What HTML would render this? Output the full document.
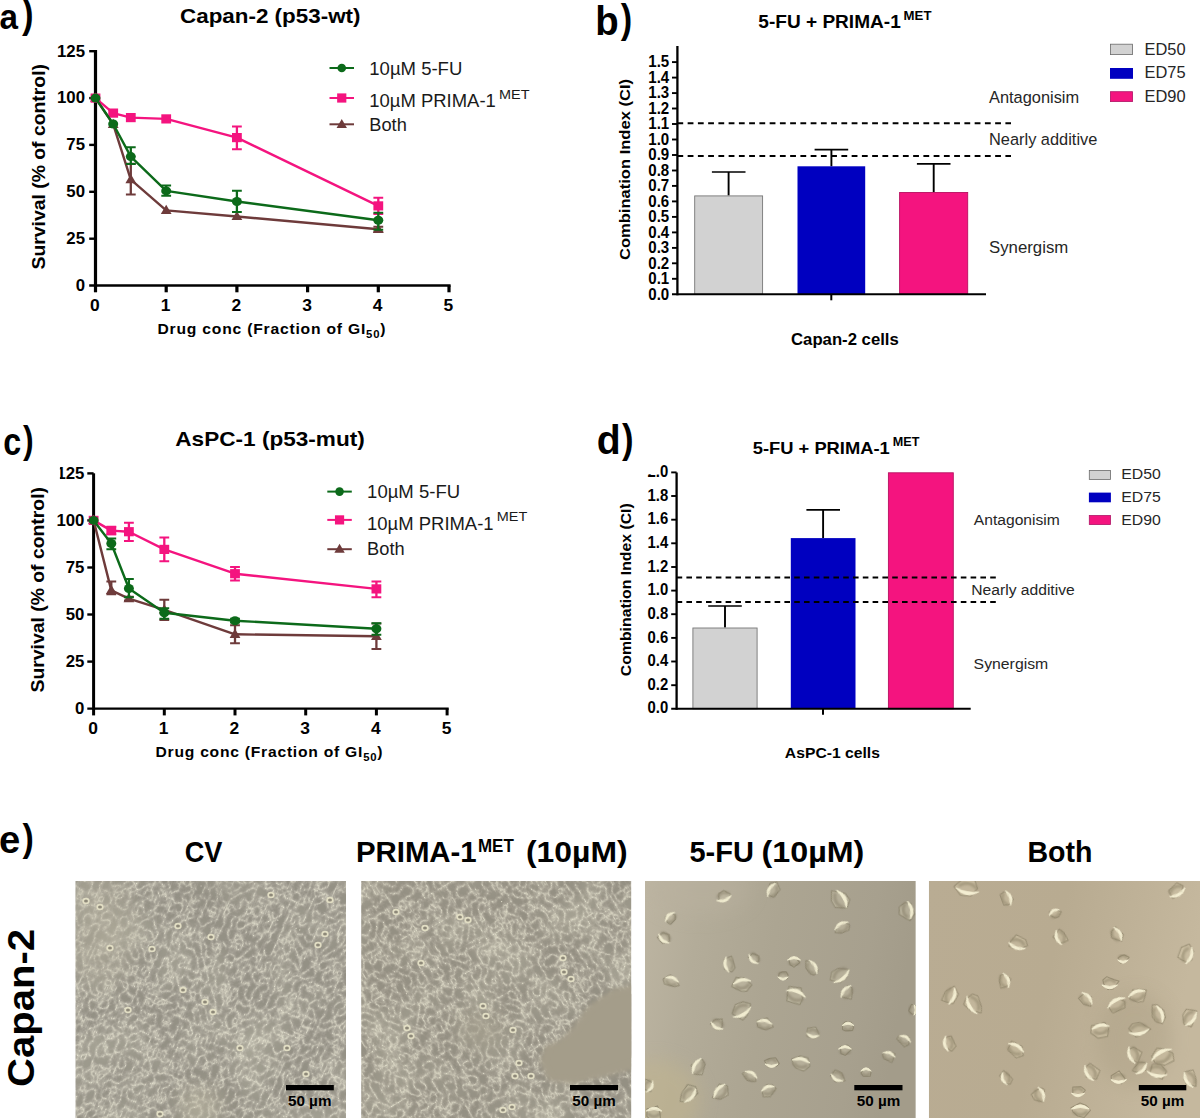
<!DOCTYPE html>
<html><head><meta charset="utf-8"><title>Figure</title>
<style>html,body{margin:0;padding:0;background:#fff;overflow:hidden;width:1200px;height:1118px;}svg{display:block;}text{font-family:"Liberation Sans",sans-serif;}</style>
</head><body>
<svg width="1200" height="1118" viewBox="0 0 1200 1118">
<rect width="1200" height="1118" fill="#fff"/>
<text transform="translate(-0.6,29.25) scale(0.83,0.89)" font-family="Liberation Sans, sans-serif" font-weight="700" font-size="40" fill="#000">a</text>
<text transform="translate(22.0,28.3) scale(0.866,1.0)" font-family="Liberation Sans, sans-serif" font-weight="700" font-size="40" fill="#000">)</text>
<text transform="translate(595.2,34.6) scale(0.96,1.014)" font-family="Liberation Sans, sans-serif" font-weight="700" font-size="40" fill="#000">b</text>
<text transform="translate(620.8,33.3) scale(0.857,0.997)" font-family="Liberation Sans, sans-serif" font-weight="700" font-size="40" fill="#000">)</text>
<text transform="translate(3.3,454.6) scale(0.806,0.966)" font-family="Liberation Sans, sans-serif" font-weight="700" font-size="40" fill="#000">c</text>
<text transform="translate(23.0,453.4) scale(0.8,0.987)" font-family="Liberation Sans, sans-serif" font-weight="700" font-size="40" fill="#000">)</text>
<text transform="translate(596.7,454.2) scale(0.98,1.014)" font-family="Liberation Sans, sans-serif" font-weight="700" font-size="40" fill="#000">d</text>
<text transform="translate(622.0,452.9) scale(0.866,0.997)" font-family="Liberation Sans, sans-serif" font-weight="700" font-size="40" fill="#000">)</text>
<text transform="translate(-1.1,852.5) scale(0.956,0.964)" font-family="Liberation Sans, sans-serif" font-weight="700" font-size="40" fill="#000">e</text>
<text transform="translate(22.5,851.3) scale(0.848,0.987)" font-family="Liberation Sans, sans-serif" font-weight="700" font-size="40" fill="#000">)</text>
<g id="pa">
<text x="180" y="22.5" textLength="180.5" lengthAdjust="spacingAndGlyphs" font-family="Liberation Sans, sans-serif" font-weight="700" font-size="20.8">Capan-2 (p53-wt)</text>
<path d="M95.5,50.099999999999994V286.7" stroke="#000" stroke-width="3.2"/>
<path d="M89.2,285.5H450.6" stroke="#000" stroke-width="2.4"/>
<text transform="translate(85.0,290.7) scale(1.05,1)" text-anchor="end" font-family="Liberation Sans, sans-serif" font-weight="700" font-size="16" fill="#000">0</text>
<path d="M89.2,238.7H95.5" stroke="#000" stroke-width="2.4"/>
<text transform="translate(85.0,243.8) scale(1.05,1)" text-anchor="end" font-family="Liberation Sans, sans-serif" font-weight="700" font-size="16" fill="#000">25</text>
<path d="M89.2,191.8H95.5" stroke="#000" stroke-width="2.4"/>
<text transform="translate(85.0,197.0) scale(1.05,1)" text-anchor="end" font-family="Liberation Sans, sans-serif" font-weight="700" font-size="16" fill="#000">50</text>
<path d="M89.2,144.9H95.5" stroke="#000" stroke-width="2.4"/>
<text transform="translate(85.0,150.1) scale(1.05,1)" text-anchor="end" font-family="Liberation Sans, sans-serif" font-weight="700" font-size="16" fill="#000">75</text>
<path d="M89.2,98.1H95.5" stroke="#000" stroke-width="2.4"/>
<text transform="translate(85.0,103.3) scale(1.05,1)" text-anchor="end" font-family="Liberation Sans, sans-serif" font-weight="700" font-size="16" fill="#000">100</text>
<path d="M89.2,51.2H95.5" stroke="#000" stroke-width="2.4"/>
<text transform="translate(85.0,56.5) scale(1.05,1)" text-anchor="end" font-family="Liberation Sans, sans-serif" font-weight="700" font-size="16" fill="#000">125</text>
<path d="M95.5,285.5V292.3" stroke="#000" stroke-width="3.2"/>
<text transform="translate(94.9,310.8) scale(1.09,1)" text-anchor="middle" font-family="Liberation Sans, sans-serif" font-weight="700" font-size="16" fill="#000">0</text>
<path d="M166.2,285.5V292.3" stroke="#000" stroke-width="3.2"/>
<text transform="translate(165.6,310.8) scale(1.09,1)" text-anchor="middle" font-family="Liberation Sans, sans-serif" font-weight="700" font-size="16" fill="#000">1</text>
<path d="M236.9,285.5V292.3" stroke="#000" stroke-width="3.2"/>
<text transform="translate(236.3,310.8) scale(1.09,1)" text-anchor="middle" font-family="Liberation Sans, sans-serif" font-weight="700" font-size="16" fill="#000">2</text>
<path d="M307.6,285.5V292.3" stroke="#000" stroke-width="3.2"/>
<text transform="translate(307.0,310.8) scale(1.09,1)" text-anchor="middle" font-family="Liberation Sans, sans-serif" font-weight="700" font-size="16" fill="#000">3</text>
<path d="M378.3,285.5V292.3" stroke="#000" stroke-width="3.2"/>
<text transform="translate(377.7,310.8) scale(1.09,1)" text-anchor="middle" font-family="Liberation Sans, sans-serif" font-weight="700" font-size="16" fill="#000">4</text>
<path d="M449.0,285.5V292.3" stroke="#000" stroke-width="3.2"/>
<text transform="translate(448.4,310.8) scale(1.09,1)" text-anchor="middle" font-family="Liberation Sans, sans-serif" font-weight="700" font-size="16" fill="#000">5</text>
<text transform="translate(44.5,269.5) rotate(-90)" textLength="205.5" lengthAdjust="spacingAndGlyphs" font-family="Liberation Sans, sans-serif" font-weight="700" font-size="18">Survival (% of control)</text>
<text transform="translate(157.5,333.8) scale(1.08,1)" textLength="211.1" lengthAdjust="spacing" font-family="Liberation Sans, sans-serif" font-weight="700" font-size="14.5">Drug conc (Fraction of GI<tspan dy="4" font-size="10.5">50</tspan><tspan dy="-4">)</tspan></text>
<path d="M95.5,98.1 L113.2,124.3 L130.8,179.6 L166.2,210.4 L236.9,216.5 L378.3,229.3" fill="none" stroke="#6e3b3b" stroke-width="2.4" stroke-linejoin="round"/>
<path d="M95.5,92.5L100.9,101.7H90.1Z" fill="#6e3b3b"/>
<path d="M113.2,118.7L118.6,127.9H107.8Z" fill="#6e3b3b"/>
<path d="M130.8,163.7V194.6" stroke="#6e3b3b" stroke-width="2.3" fill="none"/>
<path d="M125.9,163.7h9.8M125.9,194.6h9.8" stroke="#6e3b3b" stroke-width="2" fill="none"/>
<path d="M130.8,174.0L136.2,183.2H125.4Z" fill="#6e3b3b"/>
<path d="M166.2,204.8L171.6,214.0H160.8Z" fill="#6e3b3b"/>
<path d="M236.9,210.9L242.3,220.1H231.5Z" fill="#6e3b3b"/>
<path d="M378.3,226.7V231.9" stroke="#6e3b3b" stroke-width="2.3" fill="none"/>
<path d="M373.4,226.7h9.8M373.4,231.9h9.8" stroke="#6e3b3b" stroke-width="2" fill="none"/>
<path d="M378.3,223.7L383.7,232.9H372.9Z" fill="#6e3b3b"/>
<path d="M95.5,98.1 L113.2,113.1 L130.8,117.6 L166.2,118.9 L236.9,137.6 L378.3,205.9" fill="none" stroke="#f4147f" stroke-width="2.4" stroke-linejoin="round"/>
<rect x="90.6" y="93.5" width="9.8" height="9.2" fill="#f4147f"/>
<rect x="108.3" y="108.5" width="9.8" height="9.2" fill="#f4147f"/>
<rect x="125.9" y="113.0" width="9.8" height="9.2" fill="#f4147f"/>
<rect x="161.3" y="114.3" width="9.8" height="9.2" fill="#f4147f"/>
<path d="M236.9,126.4V149.3" stroke="#f4147f" stroke-width="2.3" fill="none"/>
<path d="M232.0,126.4h9.8M232.0,149.3h9.8" stroke="#f4147f" stroke-width="2" fill="none"/>
<rect x="232.0" y="133.0" width="9.8" height="9.2" fill="#f4147f"/>
<path d="M378.3,197.8V213.9" stroke="#f4147f" stroke-width="2.3" fill="none"/>
<path d="M373.4,197.8h9.8M373.4,213.9h9.8" stroke="#f4147f" stroke-width="2" fill="none"/>
<rect x="373.4" y="201.3" width="9.8" height="9.2" fill="#f4147f"/>
<path d="M95.5,98.1 L113.2,124.0 L130.8,156.6 L166.2,190.9 L236.9,201.5 L378.3,220.3" fill="none" stroke="#0c6a1a" stroke-width="2.4" stroke-linejoin="round"/>
<ellipse cx="95.5" cy="98.1" rx="5" ry="4.5" fill="#0c6a1a"/>
<ellipse cx="113.2" cy="124.0" rx="5" ry="4.5" fill="#0c6a1a"/>
<path d="M130.8,147.2V164.1" stroke="#0c6a1a" stroke-width="2.3" fill="none"/>
<path d="M125.9,147.2h9.8M125.9,164.1h9.8" stroke="#0c6a1a" stroke-width="2" fill="none"/>
<ellipse cx="130.8" cy="156.6" rx="5" ry="4.5" fill="#0c6a1a"/>
<path d="M166.2,185.6V195.7" stroke="#0c6a1a" stroke-width="2.3" fill="none"/>
<path d="M161.3,185.6h9.8M161.3,195.7h9.8" stroke="#0c6a1a" stroke-width="2" fill="none"/>
<ellipse cx="166.2" cy="190.9" rx="5" ry="4.5" fill="#0c6a1a"/>
<path d="M236.9,190.7V211.9" stroke="#0c6a1a" stroke-width="2.3" fill="none"/>
<path d="M232.0,190.7h9.8M232.0,211.9h9.8" stroke="#0c6a1a" stroke-width="2" fill="none"/>
<ellipse cx="236.9" cy="201.5" rx="5" ry="4.5" fill="#0c6a1a"/>
<path d="M378.3,212.8V229.7" stroke="#0c6a1a" stroke-width="2.3" fill="none"/>
<path d="M373.4,212.8h9.8M373.4,229.7h9.8" stroke="#0c6a1a" stroke-width="2" fill="none"/>
<ellipse cx="378.3" cy="220.3" rx="5" ry="4.5" fill="#0c6a1a"/>
<path d="M329.5,68H354.0" stroke="#0c6a1a" stroke-width="2"/>
<circle cx="341.75" cy="68" r="4.3" fill="#0c6a1a"/>
<text x="369.3" y="75" textLength="93" lengthAdjust="spacingAndGlyphs" font-family="Liberation Sans, sans-serif" font-size="18" fill="#1a1a1a">10&#181;M 5-FU</text>
<path d="M329.5,98H354.0" stroke="#f4147f" stroke-width="2"/>
<rect x="337.15" y="93.4" width="9.2" height="9.2" fill="#f4147f"/>
<text x="369.3" y="107" textLength="126.5" lengthAdjust="spacingAndGlyphs" font-family="Liberation Sans, sans-serif" font-size="18" fill="#1a1a1a">10&#181;M PRIMA-1</text>
<text x="499.0" y="98.7" textLength="30.5" lengthAdjust="spacingAndGlyphs" font-family="Liberation Sans, sans-serif" font-size="13" fill="#1a1a1a">MET</text>
<path d="M329.5,124.3H354.0" stroke="#6e3b3b" stroke-width="2"/>
<path d="M341.75,118.89999999999999L346.95,127.89999999999999H336.55Z" fill="#6e3b3b"/>
<text x="369.3" y="130.5" textLength="37.5" lengthAdjust="spacingAndGlyphs" font-family="Liberation Sans, sans-serif" font-size="18" fill="#1a1a1a">Both</text>
</g>
<g id="pc">
<text transform="translate(175.3,446) scale(1.086,1)" text-anchor="start" font-family="Liberation Sans, sans-serif" font-weight="700" font-size="20.8" fill="#000">AsPC-1 (p53-mut)</text>
<path d="M93.6,473.3V709.8000000000001" stroke="#000" stroke-width="3.0"/>
<path d="M87.3,708.6H448.70000000000005" stroke="#000" stroke-width="2.4"/>
<text transform="translate(84.39999999999999,713.8) scale(1.05,1)" text-anchor="end" font-family="Liberation Sans, sans-serif" font-weight="700" font-size="16" fill="#000">0</text>
<path d="M87.3,661.6H93.6" stroke="#000" stroke-width="2.4"/>
<text transform="translate(84.39999999999999,666.8) scale(1.05,1)" text-anchor="end" font-family="Liberation Sans, sans-serif" font-weight="700" font-size="16" fill="#000">25</text>
<path d="M87.3,614.5H93.6" stroke="#000" stroke-width="2.4"/>
<text transform="translate(84.39999999999999,619.7) scale(1.05,1)" text-anchor="end" font-family="Liberation Sans, sans-serif" font-weight="700" font-size="16" fill="#000">50</text>
<path d="M87.3,567.5H93.6" stroke="#000" stroke-width="2.4"/>
<text transform="translate(84.39999999999999,572.7) scale(1.05,1)" text-anchor="end" font-family="Liberation Sans, sans-serif" font-weight="700" font-size="16" fill="#000">75</text>
<path d="M87.3,520.4H93.6" stroke="#000" stroke-width="2.4"/>
<text transform="translate(84.39999999999999,525.6) scale(1.05,1)" text-anchor="end" font-family="Liberation Sans, sans-serif" font-weight="700" font-size="16" fill="#000">100</text>
<path d="M87.3,473.4H93.6" stroke="#000" stroke-width="2.4"/>
<text transform="translate(84.39999999999999,478.6) scale(1.05,1)" text-anchor="end" font-family="Liberation Sans, sans-serif" font-weight="700" font-size="16" fill="#000">125</text>
<path d="M93.6,708.6V715.4" stroke="#000" stroke-width="3.0"/>
<text transform="translate(93.0,733.9) scale(1.09,1)" text-anchor="middle" font-family="Liberation Sans, sans-serif" font-weight="700" font-size="16" fill="#000">0</text>
<path d="M164.3,708.6V715.4" stroke="#000" stroke-width="3.0"/>
<text transform="translate(163.7,733.9) scale(1.09,1)" text-anchor="middle" font-family="Liberation Sans, sans-serif" font-weight="700" font-size="16" fill="#000">1</text>
<path d="M235.0,708.6V715.4" stroke="#000" stroke-width="3.0"/>
<text transform="translate(234.4,733.9) scale(1.09,1)" text-anchor="middle" font-family="Liberation Sans, sans-serif" font-weight="700" font-size="16" fill="#000">2</text>
<path d="M305.7,708.6V715.4" stroke="#000" stroke-width="3.0"/>
<text transform="translate(305.1,733.9) scale(1.09,1)" text-anchor="middle" font-family="Liberation Sans, sans-serif" font-weight="700" font-size="16" fill="#000">3</text>
<path d="M376.4,708.6V715.4" stroke="#000" stroke-width="3.0"/>
<text transform="translate(375.8,733.9) scale(1.09,1)" text-anchor="middle" font-family="Liberation Sans, sans-serif" font-weight="700" font-size="16" fill="#000">4</text>
<path d="M447.1,708.6V715.4" stroke="#000" stroke-width="3.0"/>
<text transform="translate(446.5,733.9) scale(1.09,1)" text-anchor="middle" font-family="Liberation Sans, sans-serif" font-weight="700" font-size="16" fill="#000">5</text>
<rect x="50" y="462" width="9.9" height="24" fill="#fff"/>
<text transform="translate(43.6,692.5) rotate(-90)" textLength="205.5" lengthAdjust="spacingAndGlyphs" font-family="Liberation Sans, sans-serif" font-weight="700" font-size="18">Survival (% of control)</text>
<text transform="translate(155.5,756.7) scale(1.08,1)" textLength="210.2" lengthAdjust="spacing" font-family="Liberation Sans, sans-serif" font-weight="700" font-size="14.5">Drug conc (Fraction of GI<tspan dy="4.2" font-size="10.5">50</tspan><tspan dy="-4.2">)</tspan></text>
<path d="M93.6,520.4 L111.3,590.4 L128.9,598.7 L164.3,609.8 L235.0,634.3 L376.4,636.3" fill="none" stroke="#6e3b3b" stroke-width="2.4" stroke-linejoin="round"/>
<path d="M93.6,514.8L99.0,524.0H88.2Z" fill="#6e3b3b"/>
<path d="M111.3,581.4V594.2" stroke="#6e3b3b" stroke-width="2.3" fill="none"/>
<path d="M106.4,581.4h9.8M106.4,594.2h9.8" stroke="#6e3b3b" stroke-width="2" fill="none"/>
<path d="M111.3,584.8L116.7,594.0H105.9Z" fill="#6e3b3b"/>
<path d="M128.9,596.8V600.6" stroke="#6e3b3b" stroke-width="2.3" fill="none"/>
<path d="M124.0,596.8h9.8M124.0,600.6h9.8" stroke="#6e3b3b" stroke-width="2" fill="none"/>
<path d="M128.9,593.1L134.3,602.3H123.5Z" fill="#6e3b3b"/>
<path d="M164.3,599.8V620.1" stroke="#6e3b3b" stroke-width="2.3" fill="none"/>
<path d="M159.4,599.8h9.8M159.4,620.1h9.8" stroke="#6e3b3b" stroke-width="2" fill="none"/>
<path d="M164.3,604.2L169.7,613.4H158.9Z" fill="#6e3b3b"/>
<path d="M235.0,625.2V643.3" stroke="#6e3b3b" stroke-width="2.3" fill="none"/>
<path d="M230.1,625.2h9.8M230.1,643.3h9.8" stroke="#6e3b3b" stroke-width="2" fill="none"/>
<path d="M235.0,628.7L240.4,637.9H229.6Z" fill="#6e3b3b"/>
<path d="M376.4,623.5V649.1" stroke="#6e3b3b" stroke-width="2.3" fill="none"/>
<path d="M371.5,623.5h9.8M371.5,649.1h9.8" stroke="#6e3b3b" stroke-width="2" fill="none"/>
<path d="M376.4,630.7L381.8,639.9H371.0Z" fill="#6e3b3b"/>
<path d="M93.6,520.4 L111.3,530.6 L128.9,531.7 L164.3,549.4 L235.0,573.7 L376.4,588.9" fill="none" stroke="#f4147f" stroke-width="2.4" stroke-linejoin="round"/>
<rect x="88.7" y="515.8" width="9.8" height="9.2" fill="#f4147f"/>
<path d="M111.3,526.8V534.3" stroke="#f4147f" stroke-width="2.3" fill="none"/>
<path d="M106.4,526.8h9.8M106.4,534.3h9.8" stroke="#f4147f" stroke-width="2" fill="none"/>
<rect x="106.4" y="526.0" width="9.8" height="9.2" fill="#f4147f"/>
<path d="M128.9,522.7V541.1" stroke="#f4147f" stroke-width="2.3" fill="none"/>
<path d="M124.0,522.7h9.8M124.0,541.1h9.8" stroke="#f4147f" stroke-width="2" fill="none"/>
<rect x="124.0" y="527.1" width="9.8" height="9.2" fill="#f4147f"/>
<path d="M164.3,537.5V561.2" stroke="#f4147f" stroke-width="2.3" fill="none"/>
<path d="M159.4,537.5h9.8M159.4,561.2h9.8" stroke="#f4147f" stroke-width="2" fill="none"/>
<rect x="159.4" y="544.8" width="9.8" height="9.2" fill="#f4147f"/>
<path d="M235.0,566.9V580.4" stroke="#f4147f" stroke-width="2.3" fill="none"/>
<path d="M230.1,566.9h9.8M230.1,580.4h9.8" stroke="#f4147f" stroke-width="2" fill="none"/>
<rect x="230.1" y="569.1" width="9.8" height="9.2" fill="#f4147f"/>
<path d="M376.4,581.4V597.2" stroke="#f4147f" stroke-width="2.3" fill="none"/>
<path d="M371.5,581.4h9.8M371.5,597.2h9.8" stroke="#f4147f" stroke-width="2" fill="none"/>
<rect x="371.5" y="584.3" width="9.8" height="9.2" fill="#f4147f"/>
<path d="M93.6,520.4 L111.3,543.5 L128.9,588.5 L164.3,612.8 L235.0,620.7 L376.4,628.8" fill="none" stroke="#0c6a1a" stroke-width="2.4" stroke-linejoin="round"/>
<ellipse cx="93.6" cy="520.4" rx="5" ry="4.5" fill="#0c6a1a"/>
<path d="M111.3,538.5V549.2" stroke="#0c6a1a" stroke-width="2.3" fill="none"/>
<path d="M106.4,538.5h9.8M106.4,549.2h9.8" stroke="#0c6a1a" stroke-width="2" fill="none"/>
<ellipse cx="111.3" cy="543.5" rx="5" ry="4.5" fill="#0c6a1a"/>
<path d="M128.9,579.1V597.2" stroke="#0c6a1a" stroke-width="2.3" fill="none"/>
<path d="M124.0,579.1h9.8M124.0,597.2h9.8" stroke="#0c6a1a" stroke-width="2" fill="none"/>
<ellipse cx="128.9" cy="588.5" rx="5" ry="4.5" fill="#0c6a1a"/>
<path d="M164.3,608.3V618.8" stroke="#0c6a1a" stroke-width="2.3" fill="none"/>
<path d="M159.4,608.3h9.8M159.4,618.8h9.8" stroke="#0c6a1a" stroke-width="2" fill="none"/>
<ellipse cx="164.3" cy="612.8" rx="5" ry="4.5" fill="#0c6a1a"/>
<path d="M235.0,618.8V622.6" stroke="#0c6a1a" stroke-width="2.3" fill="none"/>
<path d="M230.1,618.8h9.8M230.1,622.6h9.8" stroke="#0c6a1a" stroke-width="2" fill="none"/>
<ellipse cx="235.0" cy="620.7" rx="5" ry="4.5" fill="#0c6a1a"/>
<path d="M376.4,623.2V634.8" stroke="#0c6a1a" stroke-width="2.3" fill="none"/>
<path d="M371.5,623.2h9.8M371.5,634.8h9.8" stroke="#0c6a1a" stroke-width="2" fill="none"/>
<ellipse cx="376.4" cy="628.8" rx="5" ry="4.5" fill="#0c6a1a"/>
<path d="M327.3,491.6H351.8" stroke="#0c6a1a" stroke-width="2"/>
<circle cx="339.55" cy="491.6" r="4.3" fill="#0c6a1a"/>
<text x="367.1" y="498.4" textLength="93" lengthAdjust="spacingAndGlyphs" font-family="Liberation Sans, sans-serif" font-size="18" fill="#1a1a1a">10&#181;M 5-FU</text>
<path d="M327.3,519.9H351.8" stroke="#f4147f" stroke-width="2"/>
<rect x="334.95" y="515.3" width="9.2" height="9.2" fill="#f4147f"/>
<text x="367.1" y="529.6" textLength="126.5" lengthAdjust="spacingAndGlyphs" font-family="Liberation Sans, sans-serif" font-size="18" fill="#1a1a1a">10&#181;M PRIMA-1</text>
<text x="496.8" y="521.3000000000001" textLength="30.5" lengthAdjust="spacingAndGlyphs" font-family="Liberation Sans, sans-serif" font-size="13" fill="#1a1a1a">MET</text>
<path d="M327.3,549.2H351.8" stroke="#6e3b3b" stroke-width="2"/>
<path d="M339.55,543.8000000000001L344.75,552.8000000000001H334.35Z" fill="#6e3b3b"/>
<text x="367.1" y="554.7" textLength="37.5" lengthAdjust="spacingAndGlyphs" font-family="Liberation Sans, sans-serif" font-size="18" fill="#1a1a1a">Both</text>
</g>
<g id="pb">
<text transform="translate(758.3,27.5) scale(1.06,1)" text-anchor="start" font-family="Liberation Sans, sans-serif" font-weight="700" font-size="18" fill="#000">5-FU + PRIMA-1</text>
<text transform="translate(903.6,19.6) scale(1.1,1)" text-anchor="start" font-family="Liberation Sans, sans-serif" font-weight="700" font-size="12" fill="#000">MET</text>
<path d="M728.6,195.5V172.0" stroke="#000" stroke-width="1.9" fill="none"/>
<path d="M711.9,172.0h33.6" stroke="#000" stroke-width="1.7" fill="none"/>
<rect x="694.6999999999999" y="195.9" width="67.9" height="98.4" fill="#d2d2d2" stroke="#777" stroke-width="0.9"/>
<path d="M831.4,166.3V149.6" stroke="#000" stroke-width="1.9" fill="none"/>
<path d="M814.6,149.6h33.6" stroke="#000" stroke-width="1.7" fill="none"/>
<rect x="797.5" y="166.3" width="67.7" height="128.0" fill="#0000c0"/>
<path d="M933.7,192.1V163.8" stroke="#000" stroke-width="1.9" fill="none"/>
<path d="M916.9,163.8h33.6" stroke="#000" stroke-width="1.7" fill="none"/>
<rect x="899.6" y="192.5" width="68.1" height="101.8" fill="#f4147f" stroke="#b81060" stroke-width="0.9"/>
<path d="M677.4,46V295.3" stroke="#000" stroke-width="2.3"/>
<path d="M672.0,294.3H986" stroke="#000" stroke-width="2"/>
<path d="M831.3,294.3v6" stroke="#000" stroke-width="2"/>
<text transform="translate(669.1999999999999,299.6) scale(0.93,1)" text-anchor="end" font-family="Liberation Sans, sans-serif" font-weight="700" font-size="16.2" fill="#000">0.0</text>
<path d="M672.0,278.8H677.4" stroke="#000" stroke-width="1.9"/>
<text transform="translate(669.1999999999999,284.1) scale(0.93,1)" text-anchor="end" font-family="Liberation Sans, sans-serif" font-weight="700" font-size="16.2" fill="#000">0.1</text>
<path d="M672.0,263.3H677.4" stroke="#000" stroke-width="1.9"/>
<text transform="translate(669.1999999999999,268.6) scale(0.93,1)" text-anchor="end" font-family="Liberation Sans, sans-serif" font-weight="700" font-size="16.2" fill="#000">0.2</text>
<path d="M672.0,247.9H677.4" stroke="#000" stroke-width="1.9"/>
<text transform="translate(669.1999999999999,253.2) scale(0.93,1)" text-anchor="end" font-family="Liberation Sans, sans-serif" font-weight="700" font-size="16.2" fill="#000">0.3</text>
<path d="M672.0,232.4H677.4" stroke="#000" stroke-width="1.9"/>
<text transform="translate(669.1999999999999,237.7) scale(0.93,1)" text-anchor="end" font-family="Liberation Sans, sans-serif" font-weight="700" font-size="16.2" fill="#000">0.4</text>
<path d="M672.0,216.9H677.4" stroke="#000" stroke-width="1.9"/>
<text transform="translate(669.1999999999999,222.2) scale(0.93,1)" text-anchor="end" font-family="Liberation Sans, sans-serif" font-weight="700" font-size="16.2" fill="#000">0.5</text>
<path d="M672.0,201.4H677.4" stroke="#000" stroke-width="1.9"/>
<text transform="translate(669.1999999999999,206.7) scale(0.93,1)" text-anchor="end" font-family="Liberation Sans, sans-serif" font-weight="700" font-size="16.2" fill="#000">0.6</text>
<path d="M672.0,185.9H677.4" stroke="#000" stroke-width="1.9"/>
<text transform="translate(669.1999999999999,191.2) scale(0.93,1)" text-anchor="end" font-family="Liberation Sans, sans-serif" font-weight="700" font-size="16.2" fill="#000">0.7</text>
<path d="M672.0,170.5H677.4" stroke="#000" stroke-width="1.9"/>
<text transform="translate(669.1999999999999,175.8) scale(0.93,1)" text-anchor="end" font-family="Liberation Sans, sans-serif" font-weight="700" font-size="16.2" fill="#000">0.8</text>
<path d="M672.0,155.0H677.4" stroke="#000" stroke-width="1.9"/>
<text transform="translate(669.1999999999999,160.3) scale(0.93,1)" text-anchor="end" font-family="Liberation Sans, sans-serif" font-weight="700" font-size="16.2" fill="#000">0.9</text>
<path d="M672.0,139.5H677.4" stroke="#000" stroke-width="1.9"/>
<text transform="translate(669.1999999999999,144.8) scale(0.93,1)" text-anchor="end" font-family="Liberation Sans, sans-serif" font-weight="700" font-size="16.2" fill="#000">1.0</text>
<path d="M672.0,124.0H677.4" stroke="#000" stroke-width="1.9"/>
<text transform="translate(669.1999999999999,129.3) scale(0.93,1)" text-anchor="end" font-family="Liberation Sans, sans-serif" font-weight="700" font-size="16.2" fill="#000">1.1</text>
<path d="M672.0,108.5H677.4" stroke="#000" stroke-width="1.9"/>
<text transform="translate(669.1999999999999,113.8) scale(0.93,1)" text-anchor="end" font-family="Liberation Sans, sans-serif" font-weight="700" font-size="16.2" fill="#000">1.2</text>
<path d="M672.0,93.1H677.4" stroke="#000" stroke-width="1.9"/>
<text transform="translate(669.1999999999999,98.4) scale(0.93,1)" text-anchor="end" font-family="Liberation Sans, sans-serif" font-weight="700" font-size="16.2" fill="#000">1.3</text>
<path d="M672.0,77.6H677.4" stroke="#000" stroke-width="1.9"/>
<text transform="translate(669.1999999999999,82.9) scale(0.93,1)" text-anchor="end" font-family="Liberation Sans, sans-serif" font-weight="700" font-size="16.2" fill="#000">1.4</text>
<path d="M672.0,62.1H677.4" stroke="#000" stroke-width="1.9"/>
<text transform="translate(669.1999999999999,67.4) scale(0.93,1)" text-anchor="end" font-family="Liberation Sans, sans-serif" font-weight="700" font-size="16.2" fill="#000">1.5</text>
<path d="M677.4,123.2H1011" stroke="#000" stroke-width="2" stroke-dasharray="5.8,4.45"/>
<path d="M677.4,156.1H1011" stroke="#000" stroke-width="2" stroke-dasharray="5.8,4.45"/>
<text transform="translate(630,169.5) rotate(-90) scale(1.09,1)" text-anchor="middle" font-family="Liberation Sans, sans-serif" font-weight="700" font-size="15.2" fill="#000">Combination Index (CI)</text>
<text transform="translate(844.9,345) scale(1.045,1)" text-anchor="middle" font-family="Liberation Sans, sans-serif" font-weight="700" font-size="16" fill="#000">Capan-2 cells</text>
<text transform="translate(989,102.5) scale(0.976,1)" text-anchor="start" font-family="Liberation Sans, sans-serif" font-size="16.8" fill="#262626">Antagonisim</text>
<text transform="translate(989,145) scale(0.976,1)" text-anchor="start" font-family="Liberation Sans, sans-serif" font-size="16.8" fill="#262626">Nearly additive</text>
<text transform="translate(989,253) scale(1.0,1)" text-anchor="start" font-family="Liberation Sans, sans-serif" font-size="16.8" fill="#262626">Synergism</text>
<rect x="1110.4" y="44.199999999999996" width="22.2" height="10.4" fill="#d2d2d2" stroke="#6a6a6a" stroke-width="0.8"/>
<text transform="translate(1144.5,54.6) scale(0.955,1)" text-anchor="start" font-family="Liberation Sans, sans-serif" font-size="17.2" fill="#262626">ED50</text>
<rect x="1110" y="68" width="23" height="10.8" fill="#0000c0"/>
<text transform="translate(1144.5,78.4) scale(0.955,1)" text-anchor="start" font-family="Liberation Sans, sans-serif" font-size="17.2" fill="#262626">ED75</text>
<rect x="1110.4" y="91.7" width="22.2" height="9.9" fill="#f4147f" stroke="#b01566" stroke-width="0.8"/>
<text transform="translate(1144.5,102) scale(0.955,1)" text-anchor="start" font-family="Liberation Sans, sans-serif" font-size="17.2" fill="#262626">ED90</text>
</g>
<g id="pd">
<text transform="translate(752.8,454.2) scale(1.06,1)" text-anchor="start" font-family="Liberation Sans, sans-serif" font-weight="700" font-size="17.3" fill="#000">5-FU + PRIMA-1</text>
<text transform="translate(892.8,446.3) scale(1.05,1)" text-anchor="start" font-family="Liberation Sans, sans-serif" font-weight="700" font-size="12" fill="#000">MET</text>
<path d="M725.0,627.6V606.0" stroke="#000" stroke-width="1.9" fill="none"/>
<path d="M708.2,606.0h33.6" stroke="#000" stroke-width="1.7" fill="none"/>
<rect x="692.9" y="628.0" width="64.2" height="80.8" fill="#d2d2d2" stroke="#777" stroke-width="0.9"/>
<path d="M823.1,538.1V509.9" stroke="#000" stroke-width="1.9" fill="none"/>
<path d="M806.4,509.9h33.6" stroke="#000" stroke-width="1.7" fill="none"/>
<rect x="790.8" y="538.1" width="64.7" height="170.7" fill="#0000c0"/>
<rect x="888.4" y="472.8" width="64.9" height="236.0" fill="#f4147f" stroke="#b81060" stroke-width="0.9"/>
<path d="M676.6,472.5V709.8" stroke="#000" stroke-width="2.3"/>
<path d="M671.2,708.8H970.7" stroke="#000" stroke-width="2"/>
<path d="M823,708.8v6" stroke="#000" stroke-width="2"/>
<text transform="translate(668.2,713.4) scale(0.93,1)" text-anchor="end" font-family="Liberation Sans, sans-serif" font-weight="700" font-size="16" fill="#000">0.0</text>
<path d="M671.2,685.2H676.6" stroke="#000" stroke-width="1.9"/>
<text transform="translate(668.2,689.8) scale(0.93,1)" text-anchor="end" font-family="Liberation Sans, sans-serif" font-weight="700" font-size="16" fill="#000">0.2</text>
<path d="M671.2,661.5H676.6" stroke="#000" stroke-width="1.9"/>
<text transform="translate(668.2,666.1) scale(0.93,1)" text-anchor="end" font-family="Liberation Sans, sans-serif" font-weight="700" font-size="16" fill="#000">0.4</text>
<path d="M671.2,637.9H676.6" stroke="#000" stroke-width="1.9"/>
<text transform="translate(668.2,642.5) scale(0.93,1)" text-anchor="end" font-family="Liberation Sans, sans-serif" font-weight="700" font-size="16" fill="#000">0.6</text>
<path d="M671.2,614.2H676.6" stroke="#000" stroke-width="1.9"/>
<text transform="translate(668.2,618.8) scale(0.93,1)" text-anchor="end" font-family="Liberation Sans, sans-serif" font-weight="700" font-size="16" fill="#000">0.8</text>
<path d="M671.2,590.6H676.6" stroke="#000" stroke-width="1.9"/>
<text transform="translate(668.2,595.2) scale(0.93,1)" text-anchor="end" font-family="Liberation Sans, sans-serif" font-weight="700" font-size="16" fill="#000">1.0</text>
<path d="M671.2,567.0H676.6" stroke="#000" stroke-width="1.9"/>
<text transform="translate(668.2,571.6) scale(0.93,1)" text-anchor="end" font-family="Liberation Sans, sans-serif" font-weight="700" font-size="16" fill="#000">1.2</text>
<path d="M671.2,543.3H676.6" stroke="#000" stroke-width="1.9"/>
<text transform="translate(668.2,547.9) scale(0.93,1)" text-anchor="end" font-family="Liberation Sans, sans-serif" font-weight="700" font-size="16" fill="#000">1.4</text>
<path d="M671.2,519.7H676.6" stroke="#000" stroke-width="1.9"/>
<text transform="translate(668.2,524.3) scale(0.93,1)" text-anchor="end" font-family="Liberation Sans, sans-serif" font-weight="700" font-size="16" fill="#000">1.6</text>
<path d="M671.2,496.0H676.6" stroke="#000" stroke-width="1.9"/>
<text transform="translate(668.2,500.6) scale(0.93,1)" text-anchor="end" font-family="Liberation Sans, sans-serif" font-weight="700" font-size="16" fill="#000">1.8</text>
<path d="M671.2,472.4H676.6" stroke="#000" stroke-width="1.9"/>
<text transform="translate(668.2,477.0) scale(0.93,1)" text-anchor="end" font-family="Liberation Sans, sans-serif" font-weight="700" font-size="16" fill="#000">2.0</text>
<path d="M676.6,577.6H996.5" stroke="#000" stroke-width="2" stroke-dasharray="5.6,4.2"/>
<path d="M676.6,602.1H996.5" stroke="#000" stroke-width="2" stroke-dasharray="5.6,4.2"/>
<rect x="644" y="458" width="13.2" height="16.3" fill="#fff"/>
<text transform="translate(631.2,589.7) rotate(-90) scale(1.09,1)" text-anchor="middle" font-family="Liberation Sans, sans-serif" font-weight="700" font-size="14.5" fill="#000">Combination Index (CI)</text>
<text transform="translate(832.4,758.1) scale(1.02,1)" text-anchor="middle" font-family="Liberation Sans, sans-serif" font-weight="700" font-size="15.4" fill="#000">AsPC-1 cells</text>
<text transform="translate(973.8,525) scale(1.03,1)" text-anchor="start" font-family="Liberation Sans, sans-serif" font-size="15.2" fill="#262626">Antagonisim</text>
<text transform="translate(971.3,594.8) scale(1.03,1)" text-anchor="start" font-family="Liberation Sans, sans-serif" font-size="15.2" fill="#262626">Nearly additive</text>
<text transform="translate(973.6,668.8) scale(1.04,1)" text-anchor="start" font-family="Liberation Sans, sans-serif" font-size="15.2" fill="#262626">Synergism</text>
<rect x="1089.3000000000002" y="470.4" width="21.2" height="9.0" fill="#d2d2d2" stroke="#6a6a6a" stroke-width="0.8"/>
<text transform="translate(1121.2,479.4) scale(1.07,1)" text-anchor="start" font-family="Liberation Sans, sans-serif" font-size="14.8" fill="#262626">ED50</text>
<rect x="1088.9" y="492.6" width="22" height="9.7" fill="#0000c0"/>
<text transform="translate(1121.2,501.9) scale(1.07,1)" text-anchor="start" font-family="Liberation Sans, sans-serif" font-size="14.8" fill="#262626">ED75</text>
<rect x="1089.3000000000002" y="515.5" width="21.2" height="9.1" fill="#f4147f" stroke="#b01566" stroke-width="0.8"/>
<text transform="translate(1121.2,525) scale(1.07,1)" text-anchor="start" font-family="Liberation Sans, sans-serif" font-size="14.8" fill="#262626">ED90</text>
</g>
<g id="pe">
<text transform="translate(184.7,862) scale(0.905,1)" text-anchor="start" font-family="Liberation Sans, sans-serif" font-weight="700" font-size="30" fill="#000">CV</text>
<text transform="translate(355.9,862) scale(0.98,1)" text-anchor="start" font-family="Liberation Sans, sans-serif" font-weight="700" font-size="30" fill="#000">PRIMA-1</text>
<text transform="translate(478,851.8) scale(0.97,1)" text-anchor="start" font-family="Liberation Sans, sans-serif" font-weight="700" font-size="17.5" fill="#000">MET</text>
<text transform="translate(526.0,862) scale(1.063,1)" text-anchor="start" font-family="Liberation Sans, sans-serif" font-weight="700" font-size="30" fill="#000">(10&#181;M)</text>
<text transform="translate(689.4,862) scale(0.967,1)" text-anchor="start" font-family="Liberation Sans, sans-serif" font-weight="700" font-size="30" fill="#000">5-FU</text>
<text transform="translate(761.6,862) scale(1.075,1)" text-anchor="start" font-family="Liberation Sans, sans-serif" font-weight="700" font-size="30" fill="#000">(10&#181;M)</text>
<text transform="translate(1027.4,862) scale(0.953,1)" text-anchor="start" font-family="Liberation Sans, sans-serif" font-weight="700" font-size="30" fill="#000">Both</text>
<text transform="translate(34,1087) rotate(-90)" textLength="158" lengthAdjust="spacingAndGlyphs" font-family="Liberation Sans, sans-serif" font-weight="700" font-size="36">Capan-2</text>
<defs>
<filter id="tex1" x="0" y="0" width="100%" height="100%" color-interpolation-filters="sRGB"><feTurbulence type="turbulence" baseFrequency="0.125 0.105" numOctaves="3" seed="9"/><feColorMatrix type="matrix" values="1 0 0 0 0  1 0 0 0 0  1 0 0 0 0  0 0 0 0 1"/><feComponentTransfer><feFuncR type="table" tableValues="0.894 0.778 0.687 0.635 0.610 0.584 0.584 0.584 0.584 0.584 0.584"/><feFuncG type="table" tableValues="0.882 0.764 0.672 0.620 0.594 0.569 0.569 0.569 0.569 0.569 0.569"/><feFuncB type="table" tableValues="0.812 0.706 0.624 0.576 0.551 0.525 0.525 0.525 0.525 0.525 0.525"/></feComponentTransfer><feGaussianBlur stdDeviation="0.65" result="tex"/><feTurbulence type="fractalNoise" baseFrequency="0.02" numOctaves="2" seed="10" result="lf"/><feColorMatrix in="lf" type="matrix" values="0 0 0 0 1  0 0 0 0 1  0 0 0 0 0.9  0.4 0 0 0 -0.168" result="lfa"/><feComposite in="lfa" in2="tex" operator="over"/></filter>
<filter id="tex2" x="0" y="0" width="100%" height="100%" color-interpolation-filters="sRGB"><feTurbulence type="turbulence" baseFrequency="0.125 0.105" numOctaves="3" seed="14"/><feColorMatrix type="matrix" values="1 0 0 0 0  1 0 0 0 0  1 0 0 0 0  0 0 0 0 1"/><feComponentTransfer><feFuncR type="table" tableValues="0.890 0.775 0.686 0.635 0.610 0.584 0.584 0.584 0.584 0.584 0.584"/><feFuncG type="table" tableValues="0.875 0.758 0.667 0.616 0.590 0.565 0.565 0.565 0.565 0.565 0.565"/><feFuncB type="table" tableValues="0.800 0.694 0.612 0.565 0.539 0.514 0.514 0.514 0.514 0.514 0.514"/></feComponentTransfer><feGaussianBlur stdDeviation="0.65" result="tex"/><feTurbulence type="fractalNoise" baseFrequency="0.02" numOctaves="2" seed="15" result="lf"/><feColorMatrix in="lf" type="matrix" values="0 0 0 0 1  0 0 0 0 1  0 0 0 0 0.9  0.4 0 0 0 -0.168" result="lfa"/><feComposite in="lfa" in2="tex" operator="over"/></filter>
<filter id="bl05" x="-30%" y="-30%" width="160%" height="160%"><feGaussianBlur stdDeviation="0.5"/></filter>
<filter id="bl07" x="-50%" y="-50%" width="200%" height="200%"><feGaussianBlur stdDeviation="0.7"/></filter>
<filter id="bl1" x="-30%" y="-30%" width="160%" height="160%"><feGaussianBlur stdDeviation="0.9"/></filter>
<filter id="bl2" x="-40%" y="-40%" width="180%" height="180%"><feGaussianBlur stdDeviation="2"/></filter>
<filter id="bl3" x="-30%" y="-30%" width="160%" height="160%"><feGaussianBlur stdDeviation="3.5"/></filter>
<filter id="bl8" x="-50%" y="-50%" width="200%" height="200%"><feGaussianBlur stdDeviation="9"/></filter>
<clipPath id="c1"><rect x="75.5" y="881" width="270.5" height="237"/></clipPath>
<clipPath id="c2"><rect x="361.2" y="881" width="270" height="237"/></clipPath>
<clipPath id="c3"><rect x="645" y="881" width="270.8" height="237"/></clipPath>
<clipPath id="c4"><rect x="928.8" y="881" width="271.2" height="237"/></clipPath>
<linearGradient id="g3" x1="0" y1="0" x2="1" y2="0.15"><stop offset="0" stop-color="#bdb5a2"/><stop offset="0.22" stop-color="#b3ac99"/><stop offset="0.5" stop-color="#aca592"/><stop offset="0.85" stop-color="#a7a08e"/><stop offset="1" stop-color="#a39c8a"/></linearGradient>
<linearGradient id="g4" x1="0" y1="0" x2="1" y2="0.2"><stop offset="0" stop-color="#b9ac93"/><stop offset="0.5" stop-color="#b8ab91"/><stop offset="0.78" stop-color="#bfb298"/><stop offset="1" stop-color="#c5b89e"/></linearGradient>
</defs>
<g clip-path="url(#c1)">
<rect x="-40" y="760" width="520" height="480" filter="url(#tex1)" transform="rotate(24 210 1000)"/>
<ellipse cx="100" cy="930" rx="40" ry="60" fill="#bcb7a4" opacity="0.35" filter="url(#bl8)"/>
<ellipse cx="215" cy="890" rx="30" ry="14" fill="#8f8b80" opacity="0.35" filter="url(#bl8)"/>
<ellipse cx="200" cy="1105" rx="22" ry="18" fill="#c4bfa8" opacity="0.45" filter="url(#bl8)"/>
<ellipse cx="86.0" cy="901.0" rx="2.8" ry="2.4" fill="#8d8878" stroke="#e2dec4" stroke-width="1.7" filter="url(#bl07)"/>
<ellipse cx="100.0" cy="907.0" rx="2.8" ry="2.4" fill="#8d8878" stroke="#e2dec4" stroke-width="1.7" filter="url(#bl07)"/>
<ellipse cx="271.0" cy="895.0" rx="2.8" ry="2.4" fill="#8d8878" stroke="#e2dec4" stroke-width="1.7" filter="url(#bl07)"/>
<ellipse cx="211.0" cy="937.0" rx="2.8" ry="2.4" fill="#8d8878" stroke="#e2dec4" stroke-width="1.7" filter="url(#bl07)"/>
<ellipse cx="325.0" cy="934.0" rx="2.8" ry="2.4" fill="#8d8878" stroke="#e2dec4" stroke-width="1.7" filter="url(#bl07)"/>
<ellipse cx="318.0" cy="945.0" rx="2.8" ry="2.4" fill="#8d8878" stroke="#e2dec4" stroke-width="1.7" filter="url(#bl07)"/>
<ellipse cx="183.0" cy="990.0" rx="2.8" ry="2.4" fill="#8d8878" stroke="#e2dec4" stroke-width="1.7" filter="url(#bl07)"/>
<ellipse cx="205.0" cy="1002.0" rx="2.8" ry="2.4" fill="#8d8878" stroke="#e2dec4" stroke-width="1.7" filter="url(#bl07)"/>
<ellipse cx="213.0" cy="1012.0" rx="2.8" ry="2.4" fill="#8d8878" stroke="#e2dec4" stroke-width="1.7" filter="url(#bl07)"/>
<ellipse cx="240.0" cy="1048.0" rx="2.8" ry="2.4" fill="#8d8878" stroke="#e2dec4" stroke-width="1.7" filter="url(#bl07)"/>
<ellipse cx="287.0" cy="1048.0" rx="2.8" ry="2.4" fill="#8d8878" stroke="#e2dec4" stroke-width="1.7" filter="url(#bl07)"/>
<ellipse cx="306.0" cy="1074.0" rx="2.8" ry="2.4" fill="#8d8878" stroke="#e2dec4" stroke-width="1.7" filter="url(#bl07)"/>
<ellipse cx="160.0" cy="1114.0" rx="2.8" ry="2.4" fill="#8d8878" stroke="#e2dec4" stroke-width="1.7" filter="url(#bl07)"/>
<ellipse cx="110.0" cy="948.0" rx="2.8" ry="2.4" fill="#8d8878" stroke="#e2dec4" stroke-width="1.7" filter="url(#bl07)"/>
<ellipse cx="152.0" cy="949.0" rx="2.8" ry="2.4" fill="#8d8878" stroke="#e2dec4" stroke-width="1.7" filter="url(#bl07)"/>
<ellipse cx="178.0" cy="926.0" rx="2.8" ry="2.4" fill="#8d8878" stroke="#e2dec4" stroke-width="1.7" filter="url(#bl07)"/>
<ellipse cx="330.0" cy="900.0" rx="2.8" ry="2.4" fill="#8d8878" stroke="#e2dec4" stroke-width="1.7" filter="url(#bl07)"/>
<ellipse cx="128.0" cy="1010.0" rx="2.8" ry="2.4" fill="#8d8878" stroke="#e2dec4" stroke-width="1.7" filter="url(#bl07)"/>
</g>
<rect x="286" y="1085" width="47.8" height="5.3" fill="#000"/>
<text x="309.7" y="1106" text-anchor="middle" textLength="43.5" lengthAdjust="spacingAndGlyphs" font-family="Liberation Sans, sans-serif" font-weight="700" font-size="13.8">50 &#181;m</text>
<g clip-path="url(#c2)">
<rect x="240" y="760" width="520" height="480" filter="url(#tex2)" transform="rotate(-31 496 1000)"/>
<path d="M640,983 L612,990 L588,1006 L574,1026 L560,1040 L545,1046 L540,1062 L548,1080 L572,1084 L598,1078 L640,1068Z" fill="#a49d8a" filter="url(#bl2)"/>
<path d="M640,992 L615,998 L594,1013 L580,1033 L555,1048 L549,1062 L556,1074 L580,1076 L600,1068 L640,1055Z" fill="#a49d8a"/>
<ellipse cx="480" cy="1030" rx="22" ry="18" fill="#a29c8b" opacity="0.6" filter="url(#bl8)"/>
<ellipse cx="396.0" cy="912.0" rx="2.8" ry="2.4" fill="#8d8878" stroke="#e2dec4" stroke-width="1.7" filter="url(#bl07)"/>
<ellipse cx="425.0" cy="928.0" rx="2.8" ry="2.4" fill="#8d8878" stroke="#e2dec4" stroke-width="1.7" filter="url(#bl07)"/>
<ellipse cx="460.0" cy="917.0" rx="2.8" ry="2.4" fill="#8d8878" stroke="#e2dec4" stroke-width="1.7" filter="url(#bl07)"/>
<ellipse cx="468.0" cy="920.0" rx="2.8" ry="2.4" fill="#8d8878" stroke="#e2dec4" stroke-width="1.7" filter="url(#bl07)"/>
<ellipse cx="421.0" cy="963.0" rx="2.8" ry="2.4" fill="#8d8878" stroke="#e2dec4" stroke-width="1.7" filter="url(#bl07)"/>
<ellipse cx="563.0" cy="958.0" rx="2.8" ry="2.4" fill="#8d8878" stroke="#e2dec4" stroke-width="1.7" filter="url(#bl07)"/>
<ellipse cx="564.0" cy="972.0" rx="2.8" ry="2.4" fill="#8d8878" stroke="#e2dec4" stroke-width="1.7" filter="url(#bl07)"/>
<ellipse cx="571.0" cy="979.0" rx="2.8" ry="2.4" fill="#8d8878" stroke="#e2dec4" stroke-width="1.7" filter="url(#bl07)"/>
<ellipse cx="483.0" cy="1006.0" rx="2.8" ry="2.4" fill="#8d8878" stroke="#e2dec4" stroke-width="1.7" filter="url(#bl07)"/>
<ellipse cx="486.0" cy="1016.0" rx="2.8" ry="2.4" fill="#8d8878" stroke="#e2dec4" stroke-width="1.7" filter="url(#bl07)"/>
<ellipse cx="407.0" cy="1028.0" rx="2.8" ry="2.4" fill="#8d8878" stroke="#e2dec4" stroke-width="1.7" filter="url(#bl07)"/>
<ellipse cx="411.0" cy="1036.0" rx="2.8" ry="2.4" fill="#8d8878" stroke="#e2dec4" stroke-width="1.7" filter="url(#bl07)"/>
<ellipse cx="513.0" cy="1030.0" rx="2.8" ry="2.4" fill="#8d8878" stroke="#e2dec4" stroke-width="1.7" filter="url(#bl07)"/>
<ellipse cx="519.0" cy="1063.0" rx="2.8" ry="2.4" fill="#8d8878" stroke="#e2dec4" stroke-width="1.7" filter="url(#bl07)"/>
<ellipse cx="515.0" cy="1076.0" rx="2.8" ry="2.4" fill="#8d8878" stroke="#e2dec4" stroke-width="1.7" filter="url(#bl07)"/>
<ellipse cx="531.0" cy="1076.0" rx="2.8" ry="2.4" fill="#8d8878" stroke="#e2dec4" stroke-width="1.7" filter="url(#bl07)"/>
<ellipse cx="512.0" cy="1107.0" rx="2.8" ry="2.4" fill="#8d8878" stroke="#e2dec4" stroke-width="1.7" filter="url(#bl07)"/>
<ellipse cx="503.0" cy="1110.0" rx="2.8" ry="2.4" fill="#8d8878" stroke="#e2dec4" stroke-width="1.7" filter="url(#bl07)"/>
</g>
<rect x="570" y="1085" width="48.0" height="5.3" fill="#000"/>
<text x="594" y="1106" text-anchor="middle" textLength="43.5" lengthAdjust="spacingAndGlyphs" font-family="Liberation Sans, sans-serif" font-weight="700" font-size="13.8">50 &#181;m</text>
<g clip-path="url(#c3)">
<rect x="645" y="881" width="270.8" height="237" fill="url(#g3)"/>
<ellipse cx="655" cy="1100" rx="45" ry="40" fill="#c0b48f" opacity="0.6" filter="url(#bl8)"/>
<ellipse cx="700" cy="890" rx="50" ry="25" fill="#b9b19f" opacity="0.5" filter="url(#bl8)"/>
<g transform="translate(724.0,898.0) rotate(-20)">
<path d="M7.6,-1.0 L3.1,2.2 L-5.7,1.3 L-3.6,-5.6 L2.3,-7.2Z" fill="#c4bda4" fill-opacity="0.5" stroke="#857d67" stroke-opacity="0.7" stroke-width="1.1" stroke-linejoin="round" filter="url(#bl05)"/>
<path d="M-6.2,-2.3 Q0,-8.6 6.2,-2.3" fill="none" stroke="#857d67" stroke-width="2.6" opacity="0.62" filter="url(#bl1)"/>
<path d="M-7.8,0 Q0,7.6 7.8,0 Q0,2.8 -7.8,0Z" fill="#f1ecd0" stroke="#f1ecd0" stroke-width="0.9" stroke-linejoin="round" filter="url(#bl05)"/>
</g>
<g transform="translate(771.5,890.0) rotate(-60)">
<path d="M9.4,0.7 L4.7,7.3 L-4.9,5.6 L-6.3,-0.5 L4.9,-4.8Z" fill="#c4bda4" fill-opacity="0.5" stroke="#857d67" stroke-opacity="0.7" stroke-width="1.1" stroke-linejoin="round" filter="url(#bl05)"/>
<path d="M-6.2,2.3 Q0,8.6 6.2,2.3" fill="none" stroke="#857d67" stroke-width="2.6" opacity="0.62" filter="url(#bl1)"/>
<path d="M-7.8,0 Q0,-7.6 7.8,0 Q0,-2.8 -7.8,0Z" fill="#f1ecd0" stroke="#f1ecd0" stroke-width="0.9" stroke-linejoin="round" filter="url(#bl05)"/>
</g>
<g transform="translate(841.5,899.0) rotate(60)">
<path d="M10.5,-0.1 L4.2,9.6 L-3.3,9.7 L-12.1,4.5 L-3.1,-6.0 L4.9,-7.0Z" fill="#c4bda4" fill-opacity="0.5" stroke="#857d67" stroke-opacity="0.7" stroke-width="1.1" stroke-linejoin="round" filter="url(#bl05)"/>
<path d="M-8.2,2.6 Q0,10.0 8.2,2.6" fill="none" stroke="#857d67" stroke-width="2.6" opacity="0.62" filter="url(#bl1)"/>
<path d="M-10.2,0 Q0,-8.8 10.2,0 Q0,-3.2 -10.2,0Z" fill="#f1ecd0" stroke="#f1ecd0" stroke-width="0.9" stroke-linejoin="round" filter="url(#bl05)"/>
</g>
<g transform="translate(841.5,926.0) rotate(-30)">
<path d="M7.6,3.1 L4.4,7.2 L-3.0,6.3 L-8.9,2.6 L-4.3,-1.6 L3.9,-2.8Z" fill="#c4bda4" fill-opacity="0.5" stroke="#857d67" stroke-opacity="0.7" stroke-width="1.1" stroke-linejoin="round" filter="url(#bl05)"/>
<path d="M-6.2,2.3 Q0,8.6 6.2,2.3" fill="none" stroke="#857d67" stroke-width="2.6" opacity="0.62" filter="url(#bl1)"/>
<path d="M-7.8,0 Q0,-7.6 7.8,0 Q0,-2.8 -7.8,0Z" fill="#f1ecd0" stroke="#f1ecd0" stroke-width="0.9" stroke-linejoin="round" filter="url(#bl05)"/>
</g>
<g transform="translate(670.0,917.0) rotate(-45)">
<path d="M5.3,2.2 L2.1,5.4 L-4.8,5.6 L-5.5,1.8 L-3.6,-3.0 L3.1,-2.0Z" fill="#c4bda4" fill-opacity="0.5" stroke="#857d67" stroke-opacity="0.7" stroke-width="1.1" stroke-linejoin="round" filter="url(#bl05)"/>
<path d="M-5.2,2.1 Q0,8.0 5.2,2.1" fill="none" stroke="#857d67" stroke-width="2.6" opacity="0.62" filter="url(#bl1)"/>
<path d="M-6.5,0 Q0,-7.0 6.5,0 Q0,-2.6 -6.5,0Z" fill="#f1ecd0" stroke="#f1ecd0" stroke-width="0.9" stroke-linejoin="round" filter="url(#bl05)"/>
</g>
<g transform="translate(664.0,938.5) rotate(40)">
<path d="M6.3,-1.1 L2.2,4.8 L-5.7,3.5 L-4.8,-3.8 L1.3,-6.1Z" fill="#c4bda4" fill-opacity="0.5" stroke="#857d67" stroke-opacity="0.7" stroke-width="1.1" stroke-linejoin="round" filter="url(#bl05)"/>
<path d="M-5.7,-2.2 Q0,-8.3 5.7,-2.2" fill="none" stroke="#857d67" stroke-width="2.6" opacity="0.62" filter="url(#bl1)"/>
<path d="M-7.1,0 Q0,7.3 7.1,0 Q0,2.7 -7.1,0Z" fill="#f1ecd0" stroke="#f1ecd0" stroke-width="0.9" stroke-linejoin="round" filter="url(#bl05)"/>
</g>
<g transform="translate(672.0,980.0) rotate(20)">
<path d="M8.7,2.7 L4.6,5.2 L-5.8,6.2 L-8.7,2.1 L-3.6,-4.2 L2.3,-2.7Z" fill="#c4bda4" fill-opacity="0.5" stroke="#857d67" stroke-opacity="0.7" stroke-width="1.1" stroke-linejoin="round" filter="url(#bl05)"/>
<path d="M-5.7,2.2 Q0,8.3 5.7,2.2" fill="none" stroke="#857d67" stroke-width="2.6" opacity="0.62" filter="url(#bl1)"/>
<path d="M-7.1,0 Q0,-7.3 7.1,0 Q0,-2.7 -7.1,0Z" fill="#f1ecd0" stroke="#f1ecd0" stroke-width="0.9" stroke-linejoin="round" filter="url(#bl05)"/>
</g>
<g transform="translate(727.5,964.5) rotate(80)">
<path d="M8.0,-2.8 L4.0,3.8 L-5.7,2.2 L-7.6,-5.5 L4.6,-7.0Z" fill="#c4bda4" fill-opacity="0.5" stroke="#857d67" stroke-opacity="0.7" stroke-width="1.1" stroke-linejoin="round" filter="url(#bl05)"/>
<path d="M-6.2,-2.3 Q0,-8.6 6.2,-2.3" fill="none" stroke="#857d67" stroke-width="2.6" opacity="0.62" filter="url(#bl1)"/>
<path d="M-7.8,0 Q0,7.6 7.8,0 Q0,2.8 -7.8,0Z" fill="#f1ecd0" stroke="#f1ecd0" stroke-width="0.9" stroke-linejoin="round" filter="url(#bl05)"/>
</g>
<g transform="translate(753.5,959.0) rotate(45)">
<path d="M5.5,-1.8 L2.8,1.7 L-4.8,2.5 L-4.6,-3.3 L1.7,-6.0Z" fill="#c4bda4" fill-opacity="0.5" stroke="#857d67" stroke-opacity="0.7" stroke-width="1.1" stroke-linejoin="round" filter="url(#bl05)"/>
<path d="M-5.2,-2.1 Q0,-8.0 5.2,-2.1" fill="none" stroke="#857d67" stroke-width="2.6" opacity="0.62" filter="url(#bl1)"/>
<path d="M-6.5,0 Q0,7.0 6.5,0 Q0,2.6 -6.5,0Z" fill="#f1ecd0" stroke="#f1ecd0" stroke-width="0.9" stroke-linejoin="round" filter="url(#bl05)"/>
</g>
<g transform="translate(794.0,960.0) rotate(0)">
<path d="M5.7,2.6 L0.1,7.2 L-3.8,4.8 L-5.4,-1.3 L0.9,-3.4Z" fill="#c4bda4" fill-opacity="0.5" stroke="#857d67" stroke-opacity="0.7" stroke-width="1.1" stroke-linejoin="round" filter="url(#bl05)"/>
<path d="M-5.2,2.1 Q0,8.0 5.2,2.1" fill="none" stroke="#857d67" stroke-width="2.6" opacity="0.62" filter="url(#bl1)"/>
<path d="M-6.5,0 Q0,-7.0 6.5,0 Q0,-2.6 -6.5,0Z" fill="#f1ecd0" stroke="#f1ecd0" stroke-width="0.9" stroke-linejoin="round" filter="url(#bl05)"/>
</g>
<g transform="translate(813.0,967.0) rotate(60)">
<path d="M7.6,3.0 L4.9,5.5 L-2.4,6.7 L-9.1,3.0 L-4.0,-1.8 L5.6,-2.8Z" fill="#c4bda4" fill-opacity="0.5" stroke="#857d67" stroke-opacity="0.7" stroke-width="1.1" stroke-linejoin="round" filter="url(#bl05)"/>
<path d="M-6.2,2.3 Q0,8.6 6.2,2.3" fill="none" stroke="#857d67" stroke-width="2.6" opacity="0.62" filter="url(#bl1)"/>
<path d="M-7.8,0 Q0,-7.6 7.8,0 Q0,-2.8 -7.8,0Z" fill="#f1ecd0" stroke="#f1ecd0" stroke-width="0.9" stroke-linejoin="round" filter="url(#bl05)"/>
</g>
<g transform="translate(742.0,982.5) rotate(-10)">
<path d="M9.3,4.0 L3.0,9.5 L-2.1,8.5 L-10.9,2.3 L-5.1,-5.9 L2.6,-4.2Z" fill="#c4bda4" fill-opacity="0.5" stroke="#857d67" stroke-opacity="0.7" stroke-width="1.1" stroke-linejoin="round" filter="url(#bl05)"/>
<path d="M-7.2,2.5 Q0,9.3 7.2,2.5" fill="none" stroke="#857d67" stroke-width="2.6" opacity="0.62" filter="url(#bl1)"/>
<path d="M-9.0,0 Q0,-8.2 9.0,0 Q0,-3.0 -9.0,0Z" fill="#f1ecd0" stroke="#f1ecd0" stroke-width="0.9" stroke-linejoin="round" filter="url(#bl05)"/>
</g>
<g transform="translate(783.0,977.0) rotate(0)">
<path d="M5.0,-1.9 L4.5,1.7 L-1.9,2.1 L-4.6,0.6 L-3.7,-3.8 L-0.7,-5.0 L3.2,-5.1Z" fill="#c4bda4" fill-opacity="0.5" stroke="#857d67" stroke-opacity="0.7" stroke-width="1.1" stroke-linejoin="round" filter="url(#bl05)"/>
<path d="M-4.2,-1.9 Q0,-7.3 4.2,-1.9" fill="none" stroke="#857d67" stroke-width="2.6" opacity="0.62" filter="url(#bl1)"/>
<path d="M-5.2,0 Q0,6.4 5.2,0 Q0,2.4 -5.2,0Z" fill="#f1ecd0" stroke="#f1ecd0" stroke-width="0.9" stroke-linejoin="round" filter="url(#bl05)"/>
</g>
<g transform="translate(796.0,994.0) rotate(20)">
<path d="M8.0,2.7 L7.2,8.6 L-6.2,9.8 L-8.5,0.3 L-9.1,-4.7 L2.8,-7.4Z" fill="#c4bda4" fill-opacity="0.5" stroke="#857d67" stroke-opacity="0.7" stroke-width="1.1" stroke-linejoin="round" filter="url(#bl05)"/>
<path d="M-8.2,2.6 Q0,10.0 8.2,2.6" fill="none" stroke="#857d67" stroke-width="2.6" opacity="0.62" filter="url(#bl1)"/>
<path d="M-10.2,0 Q0,-8.8 10.2,0 Q0,-3.2 -10.2,0Z" fill="#f1ecd0" stroke="#f1ecd0" stroke-width="0.9" stroke-linejoin="round" filter="url(#bl05)"/>
</g>
<g transform="translate(841.5,976.0) rotate(-40)">
<path d="M10.2,-0.2 L2.5,4.6 L-5.5,4.0 L-11.3,-4.2 L-5.3,-9.2 L1.9,-8.2Z" fill="#c4bda4" fill-opacity="0.5" stroke="#857d67" stroke-opacity="0.7" stroke-width="1.1" stroke-linejoin="round" filter="url(#bl05)"/>
<path d="M-8.2,-2.6 Q0,-10.0 8.2,-2.6" fill="none" stroke="#857d67" stroke-width="2.6" opacity="0.62" filter="url(#bl1)"/>
<path d="M-10.2,0 Q0,8.8 10.2,0 Q0,3.2 -10.2,0Z" fill="#f1ecd0" stroke="#f1ecd0" stroke-width="0.9" stroke-linejoin="round" filter="url(#bl05)"/>
</g>
<g transform="translate(846.0,991.5) rotate(-50)">
<path d="M6.8,2.0 L2.1,6.3 L-2.5,8.9 L-6.8,0.4 L-3.5,-2.2 L5.4,-2.4Z" fill="#c4bda4" fill-opacity="0.5" stroke="#857d67" stroke-opacity="0.7" stroke-width="1.1" stroke-linejoin="round" filter="url(#bl05)"/>
<path d="M-6.2,2.3 Q0,8.6 6.2,2.3" fill="none" stroke="#857d67" stroke-width="2.6" opacity="0.62" filter="url(#bl1)"/>
<path d="M-7.8,0 Q0,-7.6 7.8,0 Q0,-2.8 -7.8,0Z" fill="#f1ecd0" stroke="#f1ecd0" stroke-width="0.9" stroke-linejoin="round" filter="url(#bl05)"/>
</g>
<g transform="translate(742.0,1012.0) rotate(-30)">
<path d="M11.6,-2.7 L3.0,5.4 L-3.3,7.5 L-9.4,-3.4 L-2.2,-9.7 L6.0,-8.4Z" fill="#c4bda4" fill-opacity="0.5" stroke="#857d67" stroke-opacity="0.7" stroke-width="1.1" stroke-linejoin="round" filter="url(#bl05)"/>
<path d="M-8.2,-2.6 Q0,-10.0 8.2,-2.6" fill="none" stroke="#857d67" stroke-width="2.6" opacity="0.62" filter="url(#bl1)"/>
<path d="M-10.2,0 Q0,8.8 10.2,0 Q0,3.2 -10.2,0Z" fill="#f1ecd0" stroke="#f1ecd0" stroke-width="0.9" stroke-linejoin="round" filter="url(#bl05)"/>
</g>
<g transform="translate(764.5,1023.0) rotate(10)">
<path d="M9.4,2.4 L2.0,6.5 L-6.0,5.0 L-7.8,-1.0 L1.9,-5.4Z" fill="#c4bda4" fill-opacity="0.5" stroke="#857d67" stroke-opacity="0.7" stroke-width="1.1" stroke-linejoin="round" filter="url(#bl05)"/>
<path d="M-6.2,2.3 Q0,8.6 6.2,2.3" fill="none" stroke="#857d67" stroke-width="2.6" opacity="0.62" filter="url(#bl1)"/>
<path d="M-7.8,0 Q0,-7.6 7.8,0 Q0,-2.8 -7.8,0Z" fill="#f1ecd0" stroke="#f1ecd0" stroke-width="0.9" stroke-linejoin="round" filter="url(#bl05)"/>
</g>
<g transform="translate(717.0,1025.5) rotate(30)">
<path d="M5.3,-1.2 L3.0,3.6 L-6.3,2.0 L-4.6,-4.3 L1.3,-8.3Z" fill="#c4bda4" fill-opacity="0.5" stroke="#857d67" stroke-opacity="0.7" stroke-width="1.1" stroke-linejoin="round" filter="url(#bl05)"/>
<path d="M-5.7,-2.2 Q0,-8.3 5.7,-2.2" fill="none" stroke="#857d67" stroke-width="2.6" opacity="0.62" filter="url(#bl1)"/>
<path d="M-7.1,0 Q0,7.3 7.1,0 Q0,2.7 -7.1,0Z" fill="#f1ecd0" stroke="#f1ecd0" stroke-width="0.9" stroke-linejoin="round" filter="url(#bl05)"/>
</g>
<g transform="translate(813.0,1034.5) rotate(10)">
<path d="M6.6,-0.0 L1.4,3.7 L-5.8,2.6 L-6.4,-5.2 L1.5,-7.7Z" fill="#c4bda4" fill-opacity="0.5" stroke="#857d67" stroke-opacity="0.7" stroke-width="1.1" stroke-linejoin="round" filter="url(#bl05)"/>
<path d="M-5.2,-2.1 Q0,-8.0 5.2,-2.1" fill="none" stroke="#857d67" stroke-width="2.6" opacity="0.62" filter="url(#bl1)"/>
<path d="M-6.5,0 Q0,7.0 6.5,0 Q0,2.6 -6.5,0Z" fill="#f1ecd0" stroke="#f1ecd0" stroke-width="0.9" stroke-linejoin="round" filter="url(#bl05)"/>
</g>
<g transform="translate(848.0,1025.5) rotate(0)">
<path d="M5.5,1.9 L4.5,4.9 L-2.7,5.3 L-5.5,3.9 L-5.3,-1.1 L-2.5,-3.8 L3.2,-3.2Z" fill="#c4bda4" fill-opacity="0.5" stroke="#857d67" stroke-opacity="0.7" stroke-width="1.1" stroke-linejoin="round" filter="url(#bl05)"/>
<path d="M-4.7,2.0 Q0,7.6 4.7,2.0" fill="none" stroke="#857d67" stroke-width="2.6" opacity="0.62" filter="url(#bl1)"/>
<path d="M-5.9,0 Q0,-6.7 5.9,0 Q0,-2.5 -5.9,0Z" fill="#f1ecd0" stroke="#f1ecd0" stroke-width="0.9" stroke-linejoin="round" filter="url(#bl05)"/>
</g>
<g transform="translate(845.0,1049.0) rotate(0)">
<path d="M6.8,0.2 L0.4,6.4 L-4.1,4.5 L-4.5,-2.5 L2.4,-3.9Z" fill="#c4bda4" fill-opacity="0.5" stroke="#857d67" stroke-opacity="0.7" stroke-width="1.1" stroke-linejoin="round" filter="url(#bl05)"/>
<path d="M-5.2,2.1 Q0,8.0 5.2,2.1" fill="none" stroke="#857d67" stroke-width="2.6" opacity="0.62" filter="url(#bl1)"/>
<path d="M-6.5,0 Q0,-7.0 6.5,0 Q0,-2.6 -6.5,0Z" fill="#f1ecd0" stroke="#f1ecd0" stroke-width="0.9" stroke-linejoin="round" filter="url(#bl05)"/>
</g>
<g transform="translate(771.5,1064.0) rotate(0)">
<path d="M7.8,-0.5 L4.5,2.4 L-3.4,3.0 L-7.1,-3.2 L-1.3,-5.7 L4.1,-6.3Z" fill="#c4bda4" fill-opacity="0.5" stroke="#857d67" stroke-opacity="0.7" stroke-width="1.1" stroke-linejoin="round" filter="url(#bl05)"/>
<path d="M-5.2,-2.1 Q0,-8.0 5.2,-2.1" fill="none" stroke="#857d67" stroke-width="2.6" opacity="0.62" filter="url(#bl1)"/>
<path d="M-6.5,0 Q0,7.0 6.5,0 Q0,2.6 -6.5,0Z" fill="#f1ecd0" stroke="#f1ecd0" stroke-width="0.9" stroke-linejoin="round" filter="url(#bl05)"/>
</g>
<g transform="translate(801.0,1061.5) rotate(10)">
<path d="M9.6,3.2 L4.4,9.0 L-3.4,7.5 L-7.0,4.6 L-9.4,-1.0 L-1.8,-5.2 L6.2,-4.7Z" fill="#c4bda4" fill-opacity="0.5" stroke="#857d67" stroke-opacity="0.7" stroke-width="1.1" stroke-linejoin="round" filter="url(#bl05)"/>
<path d="M-7.2,2.5 Q0,9.3 7.2,2.5" fill="none" stroke="#857d67" stroke-width="2.6" opacity="0.62" filter="url(#bl1)"/>
<path d="M-9.0,0 Q0,-8.2 9.0,0 Q0,-3.0 -9.0,0Z" fill="#f1ecd0" stroke="#f1ecd0" stroke-width="0.9" stroke-linejoin="round" filter="url(#bl05)"/>
</g>
<g transform="translate(697.0,1066.0) rotate(-60)">
<path d="M8.5,1.0 L5.5,6.1 L-5.1,8.7 L-8.4,1.5 L-2.4,-5.5 L2.2,-3.4Z" fill="#c4bda4" fill-opacity="0.5" stroke="#857d67" stroke-opacity="0.7" stroke-width="1.1" stroke-linejoin="round" filter="url(#bl05)"/>
<path d="M-7.2,2.5 Q0,9.3 7.2,2.5" fill="none" stroke="#857d67" stroke-width="2.6" opacity="0.62" filter="url(#bl1)"/>
<path d="M-9.0,0 Q0,-8.2 9.0,0 Q0,-3.0 -9.0,0Z" fill="#f1ecd0" stroke="#f1ecd0" stroke-width="0.9" stroke-linejoin="round" filter="url(#bl05)"/>
</g>
<g transform="translate(751.0,1075.0) rotate(30)">
<path d="M7.3,3.2 L4.0,4.9 L-0.5,6.6 L-8.4,3.0 L-4.8,-1.0 L-2.4,-3.1 L4.8,-1.1Z" fill="#c4bda4" fill-opacity="0.5" stroke="#857d67" stroke-opacity="0.7" stroke-width="1.1" stroke-linejoin="round" filter="url(#bl05)"/>
<path d="M-5.7,2.2 Q0,8.3 5.7,2.2" fill="none" stroke="#857d67" stroke-width="2.6" opacity="0.62" filter="url(#bl1)"/>
<path d="M-7.1,0 Q0,-7.3 7.1,0 Q0,-2.7 -7.1,0Z" fill="#f1ecd0" stroke="#f1ecd0" stroke-width="0.9" stroke-linejoin="round" filter="url(#bl05)"/>
</g>
<g transform="translate(768.0,1089.0) rotate(-20)">
<path d="M7.9,2.2 L3.3,5.2 L-0.6,8.1 L-7.1,5.8 L-6.2,0.7 L0.0,-4.4 L5.1,-2.8Z" fill="#c4bda4" fill-opacity="0.5" stroke="#857d67" stroke-opacity="0.7" stroke-width="1.1" stroke-linejoin="round" filter="url(#bl05)"/>
<path d="M-5.7,2.2 Q0,8.3 5.7,2.2" fill="none" stroke="#857d67" stroke-width="2.6" opacity="0.62" filter="url(#bl1)"/>
<path d="M-7.1,0 Q0,-7.3 7.1,0 Q0,-2.7 -7.1,0Z" fill="#f1ecd0" stroke="#f1ecd0" stroke-width="0.9" stroke-linejoin="round" filter="url(#bl05)"/>
</g>
<g transform="translate(837.0,1077.5) rotate(30)">
<path d="M8.7,-1.1 L0.7,4.6 L-6.5,1.8 L-5.3,-5.7 L1.8,-6.2Z" fill="#c4bda4" fill-opacity="0.5" stroke="#857d67" stroke-opacity="0.7" stroke-width="1.1" stroke-linejoin="round" filter="url(#bl05)"/>
<path d="M-5.7,-2.2 Q0,-8.3 5.7,-2.2" fill="none" stroke="#857d67" stroke-width="2.6" opacity="0.62" filter="url(#bl1)"/>
<path d="M-7.1,0 Q0,7.3 7.1,0 Q0,2.7 -7.1,0Z" fill="#f1ecd0" stroke="#f1ecd0" stroke-width="0.9" stroke-linejoin="round" filter="url(#bl05)"/>
</g>
<g transform="translate(866.0,1071.0) rotate(0)">
<path d="M4.9,1.5 L4.2,5.3 L-2.7,5.2 L-5.0,2.0 L-2.7,-1.0 L3.4,-1.1Z" fill="#c4bda4" fill-opacity="0.5" stroke="#857d67" stroke-opacity="0.7" stroke-width="1.1" stroke-linejoin="round" filter="url(#bl05)"/>
<path d="M-4.2,1.9 Q0,7.3 4.2,1.9" fill="none" stroke="#857d67" stroke-width="2.6" opacity="0.62" filter="url(#bl1)"/>
<path d="M-5.2,0 Q0,-6.4 5.2,0 Q0,-2.4 -5.2,0Z" fill="#f1ecd0" stroke="#f1ecd0" stroke-width="0.9" stroke-linejoin="round" filter="url(#bl05)"/>
</g>
<g transform="translate(889.0,1055.0) rotate(20)">
<path d="M5.2,2.8 L5.1,6.2 L-3.7,5.0 L-6.4,1.5 L-2.1,-2.4 L5.3,-3.2Z" fill="#c4bda4" fill-opacity="0.5" stroke="#857d67" stroke-opacity="0.7" stroke-width="1.1" stroke-linejoin="round" filter="url(#bl05)"/>
<path d="M-5.2,2.1 Q0,8.0 5.2,2.1" fill="none" stroke="#857d67" stroke-width="2.6" opacity="0.62" filter="url(#bl1)"/>
<path d="M-6.5,0 Q0,-7.0 6.5,0 Q0,-2.6 -6.5,0Z" fill="#f1ecd0" stroke="#f1ecd0" stroke-width="0.9" stroke-linejoin="round" filter="url(#bl05)"/>
</g>
<g transform="translate(905.0,1039.0) rotate(30)">
<path d="M5.9,2.9 L3.4,7.1 L-1.4,5.7 L-7.3,3.9 L-6.6,-0.2 L0.1,-3.8 L2.7,-3.5Z" fill="#c4bda4" fill-opacity="0.5" stroke="#857d67" stroke-opacity="0.7" stroke-width="1.1" stroke-linejoin="round" filter="url(#bl05)"/>
<path d="M-5.2,2.1 Q0,8.0 5.2,2.1" fill="none" stroke="#857d67" stroke-width="2.6" opacity="0.62" filter="url(#bl1)"/>
<path d="M-6.5,0 Q0,-7.0 6.5,0 Q0,-2.6 -6.5,0Z" fill="#f1ecd0" stroke="#f1ecd0" stroke-width="0.9" stroke-linejoin="round" filter="url(#bl05)"/>
</g>
<g transform="translate(690.0,1095.5) rotate(-50)">
<path d="M10.3,-1.5 L6.7,4.6 L-2.8,3.3 L-6.7,1.8 L-10.9,-3.8 L-3.9,-7.7 L6.8,-8.9Z" fill="#c4bda4" fill-opacity="0.5" stroke="#857d67" stroke-opacity="0.7" stroke-width="1.1" stroke-linejoin="round" filter="url(#bl05)"/>
<path d="M-7.2,-2.5 Q0,-9.3 7.2,-2.5" fill="none" stroke="#857d67" stroke-width="2.6" opacity="0.62" filter="url(#bl1)"/>
<path d="M-9.0,0 Q0,8.2 9.0,0 Q0,3.0 -9.0,0Z" fill="#f1ecd0" stroke="#f1ecd0" stroke-width="0.9" stroke-linejoin="round" filter="url(#bl05)"/>
</g>
<g transform="translate(719.5,1091.0) rotate(-50)">
<path d="M8.9,2.8 L2.7,9.2 L-5.4,6.2 L-9.6,-1.1 L5.2,-4.8Z" fill="#c4bda4" fill-opacity="0.5" stroke="#857d67" stroke-opacity="0.7" stroke-width="1.1" stroke-linejoin="round" filter="url(#bl05)"/>
<path d="M-7.2,2.5 Q0,9.3 7.2,2.5" fill="none" stroke="#857d67" stroke-width="2.6" opacity="0.62" filter="url(#bl1)"/>
<path d="M-9.0,0 Q0,-8.2 9.0,0 Q0,-3.0 -9.0,0Z" fill="#f1ecd0" stroke="#f1ecd0" stroke-width="0.9" stroke-linejoin="round" filter="url(#bl05)"/>
</g>
<g transform="translate(649.5,1086.5) rotate(-60)">
<path d="M5.0,-0.8 L4.3,1.4 L-3.7,3.8 L-4.8,-1.0 L-4.7,-4.0 L-2.7,-7.1 L4.4,-7.0Z" fill="#c4bda4" fill-opacity="0.5" stroke="#857d67" stroke-opacity="0.7" stroke-width="1.1" stroke-linejoin="round" filter="url(#bl05)"/>
<path d="M-5.2,-2.1 Q0,-8.0 5.2,-2.1" fill="none" stroke="#857d67" stroke-width="2.6" opacity="0.62" filter="url(#bl1)"/>
<path d="M-6.5,0 Q0,7.0 6.5,0 Q0,2.6 -6.5,0Z" fill="#f1ecd0" stroke="#f1ecd0" stroke-width="0.9" stroke-linejoin="round" filter="url(#bl05)"/>
</g>
<g transform="translate(654.0,1111.0) rotate(0)">
<path d="M5.9,2.1 L6.4,7.5 L-3.4,8.6 L-7.1,5.4 L-6.9,-2.2 L-1.7,-3.2 L3.5,-5.1Z" fill="#c4bda4" fill-opacity="0.5" stroke="#857d67" stroke-opacity="0.7" stroke-width="1.1" stroke-linejoin="round" filter="url(#bl05)"/>
<path d="M-6.2,2.3 Q0,8.6 6.2,2.3" fill="none" stroke="#857d67" stroke-width="2.6" opacity="0.62" filter="url(#bl1)"/>
<path d="M-7.8,0 Q0,-7.6 7.8,0 Q0,-2.8 -7.8,0Z" fill="#f1ecd0" stroke="#f1ecd0" stroke-width="0.9" stroke-linejoin="round" filter="url(#bl05)"/>
</g>
<g transform="translate(909.0,910.0) rotate(80)">
<path d="M10.8,1.0 L2.7,10.4 L-4.6,9.1 L-7.9,3.0 L-6.0,-3.0 L5.4,-4.6Z" fill="#c4bda4" fill-opacity="0.5" stroke="#857d67" stroke-opacity="0.7" stroke-width="1.1" stroke-linejoin="round" filter="url(#bl05)"/>
<path d="M-7.2,2.5 Q0,9.3 7.2,2.5" fill="none" stroke="#857d67" stroke-width="2.6" opacity="0.62" filter="url(#bl1)"/>
<path d="M-9.0,0 Q0,-8.2 9.0,0 Q0,-3.0 -9.0,0Z" fill="#f1ecd0" stroke="#f1ecd0" stroke-width="0.9" stroke-linejoin="round" filter="url(#bl05)"/>
</g>
<g transform="translate(914.0,1010.0) rotate(90)">
<path d="M4.1,2.0 L1.6,4.7 L0.1,5.1 L-5.6,2.4 L-4.1,-1.2 L-2.1,-2.0 L3.9,-2.7Z" fill="#c4bda4" fill-opacity="0.5" stroke="#857d67" stroke-opacity="0.7" stroke-width="1.1" stroke-linejoin="round" filter="url(#bl05)"/>
<path d="M-4.2,1.9 Q0,7.3 4.2,1.9" fill="none" stroke="#857d67" stroke-width="2.6" opacity="0.62" filter="url(#bl1)"/>
<path d="M-5.2,0 Q0,-6.4 5.2,0 Q0,-2.4 -5.2,0Z" fill="#f1ecd0" stroke="#f1ecd0" stroke-width="0.9" stroke-linejoin="round" filter="url(#bl05)"/>
</g>
</g>
<rect x="854.3" y="1085" width="48.2" height="5.3" fill="#000"/>
<text x="878.5" y="1106" text-anchor="middle" textLength="43.5" lengthAdjust="spacingAndGlyphs" font-family="Liberation Sans, sans-serif" font-weight="700" font-size="13.8">50 &#181;m</text>
<g clip-path="url(#c4)">
<rect x="928.8" y="881" width="271.2" height="237" fill="url(#g4)"/>
<ellipse cx="1135" cy="1040" rx="38" ry="48" fill="#a3977d" opacity="0.3" filter="url(#bl8)"/>
<g transform="translate(967.4,890.0) rotate(10)">
<path d="M9.6,-3.3 L4.3,5.5 L-5.8,6.3 L-13.9,-1.1 L-5.0,-11.6 L4.5,-12.9Z" fill="#cdc2a4" fill-opacity="0.5" stroke="#8c8268" stroke-opacity="0.7" stroke-width="1.1" stroke-linejoin="round" filter="url(#bl05)"/>
<path d="M-9.2,-2.8 Q0,-10.7 9.2,-2.8" fill="none" stroke="#8c8268" stroke-width="2.6" opacity="0.62" filter="url(#bl1)"/>
<path d="M-11.5,0 Q0,9.4 11.5,0 Q0,3.5 -11.5,0Z" fill="#f4eed2" stroke="#f4eed2" stroke-width="0.9" stroke-linejoin="round" filter="url(#bl05)"/>
</g>
<g transform="translate(1008.0,898.0) rotate(70)">
<path d="M6.6,0.7 L5.3,6.3 L-5.7,6.4 L-7.2,0.8 L-2.3,-2.8 L3.3,-4.4Z" fill="#cdc2a4" fill-opacity="0.5" stroke="#8c8268" stroke-opacity="0.7" stroke-width="1.1" stroke-linejoin="round" filter="url(#bl05)"/>
<path d="M-6.2,2.3 Q0,8.6 6.2,2.3" fill="none" stroke="#8c8268" stroke-width="2.6" opacity="0.62" filter="url(#bl1)"/>
<path d="M-7.8,0 Q0,-7.6 7.8,0 Q0,-2.8 -7.8,0Z" fill="#f4eed2" stroke="#f4eed2" stroke-width="0.9" stroke-linejoin="round" filter="url(#bl05)"/>
</g>
<g transform="translate(1054.3,912.6) rotate(-30)">
<path d="M6.5,2.8 L1.5,5.9 L-1.9,4.9 L-4.4,1.1 L-3.8,-3.2 L3.2,-1.3Z" fill="#cdc2a4" fill-opacity="0.5" stroke="#8c8268" stroke-opacity="0.7" stroke-width="1.1" stroke-linejoin="round" filter="url(#bl05)"/>
<path d="M-4.7,2.0 Q0,7.6 4.7,2.0" fill="none" stroke="#8c8268" stroke-width="2.6" opacity="0.62" filter="url(#bl1)"/>
<path d="M-5.9,0 Q0,-6.7 5.9,0 Q0,-2.5 -5.9,0Z" fill="#f4eed2" stroke="#f4eed2" stroke-width="0.9" stroke-linejoin="round" filter="url(#bl05)"/>
</g>
<g transform="translate(1059.0,937.5) rotate(70)">
<path d="M6.1,-0.6 L3.6,2.3 L-2.5,5.4 L-4.7,1.0 L-7.7,-3.0 L-3.0,-6.1 L5.8,-7.7Z" fill="#cdc2a4" fill-opacity="0.5" stroke="#8c8268" stroke-opacity="0.7" stroke-width="1.1" stroke-linejoin="round" filter="url(#bl05)"/>
<path d="M-6.2,-2.3 Q0,-8.6 6.2,-2.3" fill="none" stroke="#8c8268" stroke-width="2.6" opacity="0.62" filter="url(#bl1)"/>
<path d="M-7.8,0 Q0,7.6 7.8,0 Q0,2.8 -7.8,0Z" fill="#f4eed2" stroke="#f4eed2" stroke-width="0.9" stroke-linejoin="round" filter="url(#bl05)"/>
</g>
<g transform="translate(1017.0,945.4) rotate(20)">
<path d="M10.0,-3.4 L2.9,3.5 L-7.1,3.7 L-7.7,-0.2 L-4.3,-9.7 L6.3,-8.2Z" fill="#cdc2a4" fill-opacity="0.5" stroke="#8c8268" stroke-opacity="0.7" stroke-width="1.1" stroke-linejoin="round" filter="url(#bl05)"/>
<path d="M-7.2,-2.5 Q0,-9.3 7.2,-2.5" fill="none" stroke="#8c8268" stroke-width="2.6" opacity="0.62" filter="url(#bl1)"/>
<path d="M-9.0,0 Q0,8.2 9.0,0 Q0,3.0 -9.0,0Z" fill="#f4eed2" stroke="#f4eed2" stroke-width="0.9" stroke-linejoin="round" filter="url(#bl05)"/>
</g>
<g transform="translate(1117.6,934.0) rotate(60)">
<path d="M8.3,0.2 L0.3,7.2 L-5.1,4.3 L-7.2,-1.7 L3.2,-4.8Z" fill="#cdc2a4" fill-opacity="0.5" stroke="#8c8268" stroke-opacity="0.7" stroke-width="1.1" stroke-linejoin="round" filter="url(#bl05)"/>
<path d="M-6.2,2.3 Q0,8.6 6.2,2.3" fill="none" stroke="#8c8268" stroke-width="2.6" opacity="0.62" filter="url(#bl1)"/>
<path d="M-7.8,0 Q0,-7.6 7.8,0 Q0,-2.8 -7.8,0Z" fill="#f4eed2" stroke="#f4eed2" stroke-width="0.9" stroke-linejoin="round" filter="url(#bl05)"/>
</g>
<g transform="translate(1123.0,960.0) rotate(0)">
<path d="M6.1,-2.7 L2.6,1.5 L-2.2,3.3 L-4.9,-2.1 L-1.7,-4.3 L1.3,-5.0Z" fill="#cdc2a4" fill-opacity="0.5" stroke="#8c8268" stroke-opacity="0.7" stroke-width="1.1" stroke-linejoin="round" filter="url(#bl05)"/>
<path d="M-4.2,-1.9 Q0,-7.3 4.2,-1.9" fill="none" stroke="#8c8268" stroke-width="2.6" opacity="0.62" filter="url(#bl1)"/>
<path d="M-5.2,0 Q0,6.4 5.2,0 Q0,2.4 -5.2,0Z" fill="#f4eed2" stroke="#f4eed2" stroke-width="0.9" stroke-linejoin="round" filter="url(#bl05)"/>
</g>
<g transform="translate(1177.4,892.3) rotate(-30)">
<path d="M8.0,-2.7 L2.1,3.4 L-7.1,2.9 L-6.9,-5.6 L4.3,-8.5Z" fill="#cdc2a4" fill-opacity="0.5" stroke="#8c8268" stroke-opacity="0.7" stroke-width="1.1" stroke-linejoin="round" filter="url(#bl05)"/>
<path d="M-7.2,-2.5 Q0,-9.3 7.2,-2.5" fill="none" stroke="#8c8268" stroke-width="2.6" opacity="0.62" filter="url(#bl1)"/>
<path d="M-9.0,0 Q0,8.2 9.0,0 Q0,3.0 -9.0,0Z" fill="#f4eed2" stroke="#f4eed2" stroke-width="0.9" stroke-linejoin="round" filter="url(#bl05)"/>
</g>
<g transform="translate(1188.7,955.5) rotate(-70)">
<path d="M10.9,-3.3 L5.6,3.1 L-3.6,4.2 L-7.1,0.1 L-6.3,-5.8 L-5.3,-9.8 L5.1,-9.7Z" fill="#cdc2a4" fill-opacity="0.5" stroke="#8c8268" stroke-opacity="0.7" stroke-width="1.1" stroke-linejoin="round" filter="url(#bl05)"/>
<path d="M-7.2,-2.5 Q0,-9.3 7.2,-2.5" fill="none" stroke="#8c8268" stroke-width="2.6" opacity="0.62" filter="url(#bl1)"/>
<path d="M-9.0,0 Q0,8.2 9.0,0 Q0,3.0 -9.0,0Z" fill="#f4eed2" stroke="#f4eed2" stroke-width="0.9" stroke-linejoin="round" filter="url(#bl05)"/>
</g>
<g transform="translate(1005.8,980.4) rotate(70)">
<path d="M5.9,0.8 L5.7,7.2 L-0.6,6.4 L-6.7,3.3 L-6.2,-0.6 L0.5,-5.2 L3.3,-2.5Z" fill="#cdc2a4" fill-opacity="0.5" stroke="#8c8268" stroke-opacity="0.7" stroke-width="1.1" stroke-linejoin="round" filter="url(#bl05)"/>
<path d="M-6.2,2.3 Q0,8.6 6.2,2.3" fill="none" stroke="#8c8268" stroke-width="2.6" opacity="0.62" filter="url(#bl1)"/>
<path d="M-7.8,0 Q0,-7.6 7.8,0 Q0,-2.8 -7.8,0Z" fill="#f4eed2" stroke="#f4eed2" stroke-width="0.9" stroke-linejoin="round" filter="url(#bl05)"/>
</g>
<g transform="translate(951.6,996.0) rotate(-70)">
<path d="M10.1,-0.9 L4.0,6.0 L-6.8,4.0 L-7.5,-8.0 L2.2,-7.4Z" fill="#cdc2a4" fill-opacity="0.5" stroke="#8c8268" stroke-opacity="0.7" stroke-width="1.1" stroke-linejoin="round" filter="url(#bl05)"/>
<path d="M-7.2,-2.5 Q0,-9.3 7.2,-2.5" fill="none" stroke="#8c8268" stroke-width="2.6" opacity="0.62" filter="url(#bl1)"/>
<path d="M-9.0,0 Q0,8.2 9.0,0 Q0,3.0 -9.0,0Z" fill="#f4eed2" stroke="#f4eed2" stroke-width="0.9" stroke-linejoin="round" filter="url(#bl05)"/>
</g>
<g transform="translate(972.0,1005.0) rotate(60)">
<path d="M11.5,-4.1 L3.9,4.0 L-4.7,6.9 L-8.2,2.7 L-9.2,-6.1 L-4.8,-9.5 L6.0,-7.4Z" fill="#cdc2a4" fill-opacity="0.5" stroke="#8c8268" stroke-opacity="0.7" stroke-width="1.1" stroke-linejoin="round" filter="url(#bl05)"/>
<path d="M-8.2,-2.6 Q0,-10.0 8.2,-2.6" fill="none" stroke="#8c8268" stroke-width="2.6" opacity="0.62" filter="url(#bl1)"/>
<path d="M-10.2,0 Q0,8.8 10.2,0 Q0,3.2 -10.2,0Z" fill="#f4eed2" stroke="#f4eed2" stroke-width="0.9" stroke-linejoin="round" filter="url(#bl05)"/>
</g>
<g transform="translate(1109.7,985.0) rotate(0)">
<path d="M9.3,-3.9 L3.4,4.0 L-1.9,4.4 L-5.9,-0.8 L-6.8,-5.0 L-2.9,-8.3 L4.5,-5.2Z" fill="#cdc2a4" fill-opacity="0.5" stroke="#8c8268" stroke-opacity="0.7" stroke-width="1.1" stroke-linejoin="round" filter="url(#bl05)"/>
<path d="M-6.2,-2.3 Q0,-8.6 6.2,-2.3" fill="none" stroke="#8c8268" stroke-width="2.6" opacity="0.62" filter="url(#bl1)"/>
<path d="M-7.8,0 Q0,7.6 7.8,0 Q0,2.8 -7.8,0Z" fill="#f4eed2" stroke="#f4eed2" stroke-width="0.9" stroke-linejoin="round" filter="url(#bl05)"/>
</g>
<g transform="translate(1136.8,994.0) rotate(-20)">
<path d="M10.4,-0.3 L3.7,9.2 L-1.9,8.0 L-8.4,2.1 L-2.3,-5.3 L3.9,-3.5Z" fill="#cdc2a4" fill-opacity="0.5" stroke="#8c8268" stroke-opacity="0.7" stroke-width="1.1" stroke-linejoin="round" filter="url(#bl05)"/>
<path d="M-7.2,2.5 Q0,9.3 7.2,2.5" fill="none" stroke="#8c8268" stroke-width="2.6" opacity="0.62" filter="url(#bl1)"/>
<path d="M-9.0,0 Q0,-8.2 9.0,0 Q0,-3.0 -9.0,0Z" fill="#f4eed2" stroke="#f4eed2" stroke-width="0.9" stroke-linejoin="round" filter="url(#bl05)"/>
</g>
<g transform="translate(1087.0,998.4) rotate(50)">
<path d="M8.4,2.2 L2.2,6.3 L-5.6,6.5 L-5.5,-0.3 L1.7,-4.2Z" fill="#cdc2a4" fill-opacity="0.5" stroke="#8c8268" stroke-opacity="0.7" stroke-width="1.1" stroke-linejoin="round" filter="url(#bl05)"/>
<path d="M-6.2,2.3 Q0,8.6 6.2,2.3" fill="none" stroke="#8c8268" stroke-width="2.6" opacity="0.62" filter="url(#bl1)"/>
<path d="M-7.8,0 Q0,-7.6 7.8,0 Q0,-2.8 -7.8,0Z" fill="#f4eed2" stroke="#f4eed2" stroke-width="0.9" stroke-linejoin="round" filter="url(#bl05)"/>
</g>
<g transform="translate(1116.4,1003.0) rotate(-30)">
<path d="M8.0,2.8 L5.0,8.4 L-8.0,6.9 L-8.8,-1.1 L2.5,-4.4Z" fill="#cdc2a4" fill-opacity="0.5" stroke="#8c8268" stroke-opacity="0.7" stroke-width="1.1" stroke-linejoin="round" filter="url(#bl05)"/>
<path d="M-8.2,2.6 Q0,10.0 8.2,2.6" fill="none" stroke="#8c8268" stroke-width="2.6" opacity="0.62" filter="url(#bl1)"/>
<path d="M-10.2,0 Q0,-8.8 10.2,0 Q0,-3.2 -10.2,0Z" fill="#f4eed2" stroke="#f4eed2" stroke-width="0.9" stroke-linejoin="round" filter="url(#bl05)"/>
</g>
<g transform="translate(1159.4,1014.0) rotate(70)">
<path d="M10.1,0.6 L5.9,6.0 L0.1,7.8 L-11.0,3.6 L-9.4,-1.0 L-2.2,-5.1 L5.4,-4.4Z" fill="#cdc2a4" fill-opacity="0.5" stroke="#8c8268" stroke-opacity="0.7" stroke-width="1.1" stroke-linejoin="round" filter="url(#bl05)"/>
<path d="M-7.2,2.5 Q0,9.3 7.2,2.5" fill="none" stroke="#8c8268" stroke-width="2.6" opacity="0.62" filter="url(#bl1)"/>
<path d="M-9.0,0 Q0,-8.2 9.0,0 Q0,-3.0 -9.0,0Z" fill="#f4eed2" stroke="#f4eed2" stroke-width="0.9" stroke-linejoin="round" filter="url(#bl05)"/>
</g>
<g transform="translate(1191.0,1018.8) rotate(-50)">
<path d="M9.7,-0.7 L5.7,2.4 L-6.2,5.4 L-8.6,-2.0 L-2.5,-8.7 L4.3,-9.7Z" fill="#cdc2a4" fill-opacity="0.5" stroke="#8c8268" stroke-opacity="0.7" stroke-width="1.1" stroke-linejoin="round" filter="url(#bl05)"/>
<path d="M-7.2,-2.5 Q0,-9.3 7.2,-2.5" fill="none" stroke="#8c8268" stroke-width="2.6" opacity="0.62" filter="url(#bl1)"/>
<path d="M-9.0,0 Q0,8.2 9.0,0 Q0,3.0 -9.0,0Z" fill="#f4eed2" stroke="#f4eed2" stroke-width="0.9" stroke-linejoin="round" filter="url(#bl05)"/>
</g>
<g transform="translate(1100.6,1027.8) rotate(-10)">
<path d="M8.0,1.0 L5.3,9.8 L-4.2,9.9 L-10.5,3.5 L-8.5,-3.8 L-3.7,-3.9 L4.7,-4.7Z" fill="#cdc2a4" fill-opacity="0.5" stroke="#8c8268" stroke-opacity="0.7" stroke-width="1.1" stroke-linejoin="round" filter="url(#bl05)"/>
<path d="M-7.2,2.5 Q0,9.3 7.2,2.5" fill="none" stroke="#8c8268" stroke-width="2.6" opacity="0.62" filter="url(#bl1)"/>
<path d="M-9.0,0 Q0,-8.2 9.0,0 Q0,-3.0 -9.0,0Z" fill="#f4eed2" stroke="#f4eed2" stroke-width="0.9" stroke-linejoin="round" filter="url(#bl05)"/>
</g>
<g transform="translate(1139.0,1031.0) rotate(-10)">
<path d="M11.9,0.2 L4.3,3.4 L-4.0,5.4 L-9.7,-4.1 L-5.2,-8.3 L2.1,-8.4Z" fill="#cdc2a4" fill-opacity="0.5" stroke="#8c8268" stroke-opacity="0.7" stroke-width="1.1" stroke-linejoin="round" filter="url(#bl05)"/>
<path d="M-8.2,-2.6 Q0,-10.0 8.2,-2.6" fill="none" stroke="#8c8268" stroke-width="2.6" opacity="0.62" filter="url(#bl1)"/>
<path d="M-10.2,0 Q0,8.8 10.2,0 Q0,3.2 -10.2,0Z" fill="#f4eed2" stroke="#f4eed2" stroke-width="0.9" stroke-linejoin="round" filter="url(#bl05)"/>
</g>
<g transform="translate(947.0,1043.6) rotate(80)">
<path d="M8.4,-3.1 L1.4,3.2 L-6.1,1.2 L-6.8,-5.4 L4.2,-8.4Z" fill="#cdc2a4" fill-opacity="0.5" stroke="#8c8268" stroke-opacity="0.7" stroke-width="1.1" stroke-linejoin="round" filter="url(#bl05)"/>
<path d="M-6.2,-2.3 Q0,-8.6 6.2,-2.3" fill="none" stroke="#8c8268" stroke-width="2.6" opacity="0.62" filter="url(#bl1)"/>
<path d="M-7.8,0 Q0,7.6 7.8,0 Q0,2.8 -7.8,0Z" fill="#f4eed2" stroke="#f4eed2" stroke-width="0.9" stroke-linejoin="round" filter="url(#bl05)"/>
</g>
<g transform="translate(1016.0,1048.0) rotate(30)">
<path d="M10.1,2.9 L5.3,8.5 L-6.1,5.8 L-7.4,-3.7 L4.3,-4.4Z" fill="#cdc2a4" fill-opacity="0.5" stroke="#8c8268" stroke-opacity="0.7" stroke-width="1.1" stroke-linejoin="round" filter="url(#bl05)"/>
<path d="M-7.2,2.5 Q0,9.3 7.2,2.5" fill="none" stroke="#8c8268" stroke-width="2.6" opacity="0.62" filter="url(#bl1)"/>
<path d="M-9.0,0 Q0,-8.2 9.0,0 Q0,-3.0 -9.0,0Z" fill="#f4eed2" stroke="#f4eed2" stroke-width="0.9" stroke-linejoin="round" filter="url(#bl05)"/>
</g>
<g transform="translate(1132.0,1055.0) rotate(70)">
<path d="M9.1,-2.9 L3.7,2.7 L-6.5,0.1 L-6.8,-4.3 L0.8,-10.3Z" fill="#cdc2a4" fill-opacity="0.5" stroke="#8c8268" stroke-opacity="0.7" stroke-width="1.1" stroke-linejoin="round" filter="url(#bl05)"/>
<path d="M-7.2,-2.5 Q0,-9.3 7.2,-2.5" fill="none" stroke="#8c8268" stroke-width="2.6" opacity="0.62" filter="url(#bl1)"/>
<path d="M-9.0,0 Q0,8.2 9.0,0 Q0,3.0 -9.0,0Z" fill="#f4eed2" stroke="#f4eed2" stroke-width="0.9" stroke-linejoin="round" filter="url(#bl05)"/>
</g>
<g transform="translate(1161.6,1055.0) rotate(-30)">
<path d="M10.6,4.0 L7.9,11.1 L-2.4,10.5 L-9.6,3.6 L-9.1,-3.9 L-0.6,-8.3 L4.4,-4.6Z" fill="#cdc2a4" fill-opacity="0.5" stroke="#8c8268" stroke-opacity="0.7" stroke-width="1.1" stroke-linejoin="round" filter="url(#bl05)"/>
<path d="M-9.2,2.8 Q0,10.7 9.2,2.8" fill="none" stroke="#8c8268" stroke-width="2.6" opacity="0.62" filter="url(#bl1)"/>
<path d="M-11.5,0 Q0,-9.4 11.5,0 Q0,-3.5 -11.5,0Z" fill="#f4eed2" stroke="#f4eed2" stroke-width="0.9" stroke-linejoin="round" filter="url(#bl05)"/>
</g>
<g transform="translate(1089.3,1073.0) rotate(60)">
<path d="M9.0,-2.9 L1.4,4.9 L-6.8,0.0 L-8.0,-5.4 L3.3,-10.5Z" fill="#cdc2a4" fill-opacity="0.5" stroke="#8c8268" stroke-opacity="0.7" stroke-width="1.1" stroke-linejoin="round" filter="url(#bl05)"/>
<path d="M-7.2,-2.5 Q0,-9.3 7.2,-2.5" fill="none" stroke="#8c8268" stroke-width="2.6" opacity="0.62" filter="url(#bl1)"/>
<path d="M-9.0,0 Q0,8.2 9.0,0 Q0,3.0 -9.0,0Z" fill="#f4eed2" stroke="#f4eed2" stroke-width="0.9" stroke-linejoin="round" filter="url(#bl05)"/>
</g>
<g transform="translate(1141.3,1068.4) rotate(-45)">
<path d="M7.1,-0.9 L2.0,4.4 L-5.5,-0.1 L-8.0,-4.8 L2.5,-6.3Z" fill="#cdc2a4" fill-opacity="0.5" stroke="#8c8268" stroke-opacity="0.7" stroke-width="1.1" stroke-linejoin="round" filter="url(#bl05)"/>
<path d="M-6.2,-2.3 Q0,-8.6 6.2,-2.3" fill="none" stroke="#8c8268" stroke-width="2.6" opacity="0.62" filter="url(#bl1)"/>
<path d="M-7.8,0 Q0,7.6 7.8,0 Q0,2.8 -7.8,0Z" fill="#f4eed2" stroke="#f4eed2" stroke-width="0.9" stroke-linejoin="round" filter="url(#bl05)"/>
</g>
<g transform="translate(1118.7,1079.7) rotate(0)">
<path d="M6.3,-1.0 L2.8,4.1 L-7.3,0.9 L-7.5,-3.9 L0.4,-8.8Z" fill="#cdc2a4" fill-opacity="0.5" stroke="#8c8268" stroke-opacity="0.7" stroke-width="1.1" stroke-linejoin="round" filter="url(#bl05)"/>
<path d="M-6.2,-2.3 Q0,-8.6 6.2,-2.3" fill="none" stroke="#8c8268" stroke-width="2.6" opacity="0.62" filter="url(#bl1)"/>
<path d="M-7.8,0 Q0,7.6 7.8,0 Q0,2.8 -7.8,0Z" fill="#f4eed2" stroke="#f4eed2" stroke-width="0.9" stroke-linejoin="round" filter="url(#bl05)"/>
</g>
<g transform="translate(1004.7,1078.6) rotate(70)">
<path d="M7.2,-3.2 L3.5,2.6 L-4.5,3.6 L-7.9,-1.8 L-1.2,-5.6 L3.3,-7.3Z" fill="#cdc2a4" fill-opacity="0.5" stroke="#8c8268" stroke-opacity="0.7" stroke-width="1.1" stroke-linejoin="round" filter="url(#bl05)"/>
<path d="M-5.2,-2.1 Q0,-8.0 5.2,-2.1" fill="none" stroke="#8c8268" stroke-width="2.6" opacity="0.62" filter="url(#bl1)"/>
<path d="M-6.5,0 Q0,7.0 6.5,0 Q0,2.6 -6.5,0Z" fill="#f4eed2" stroke="#f4eed2" stroke-width="0.9" stroke-linejoin="round" filter="url(#bl05)"/>
</g>
<g transform="translate(1040.8,1094.4) rotate(70)">
<path d="M7.7,0.6 L3.2,7.6 L-3.1,9.0 L-4.8,4.7 L-6.4,-2.2 L-3.6,-4.9 L3.3,-2.5Z" fill="#cdc2a4" fill-opacity="0.5" stroke="#8c8268" stroke-opacity="0.7" stroke-width="1.1" stroke-linejoin="round" filter="url(#bl05)"/>
<path d="M-6.2,2.3 Q0,8.6 6.2,2.3" fill="none" stroke="#8c8268" stroke-width="2.6" opacity="0.62" filter="url(#bl1)"/>
<path d="M-7.8,0 Q0,-7.6 7.8,0 Q0,-2.8 -7.8,0Z" fill="#f4eed2" stroke="#f4eed2" stroke-width="0.9" stroke-linejoin="round" filter="url(#bl05)"/>
</g>
<g transform="translate(1078.0,1093.3) rotate(0)">
<path d="M7.3,-3.2 L2.9,2.9 L-5.1,0.7 L-5.2,-6.2 L3.0,-6.7Z" fill="#cdc2a4" fill-opacity="0.5" stroke="#8c8268" stroke-opacity="0.7" stroke-width="1.1" stroke-linejoin="round" filter="url(#bl05)"/>
<path d="M-5.2,-2.1 Q0,-8.0 5.2,-2.1" fill="none" stroke="#8c8268" stroke-width="2.6" opacity="0.62" filter="url(#bl1)"/>
<path d="M-6.5,0 Q0,7.0 6.5,0 Q0,2.6 -6.5,0Z" fill="#f4eed2" stroke="#f4eed2" stroke-width="0.9" stroke-linejoin="round" filter="url(#bl05)"/>
</g>
<g transform="translate(1080.3,1109.0) rotate(0)">
<path d="M10.1,1.3 L3.9,8.4 L-2.8,7.0 L-7.3,2.8 L-9.3,-1.2 L-0.2,-5.9 L6.1,-3.4Z" fill="#cdc2a4" fill-opacity="0.5" stroke="#8c8268" stroke-opacity="0.7" stroke-width="1.1" stroke-linejoin="round" filter="url(#bl05)"/>
<path d="M-7.2,2.5 Q0,9.3 7.2,2.5" fill="none" stroke="#8c8268" stroke-width="2.6" opacity="0.62" filter="url(#bl1)"/>
<path d="M-9.0,0 Q0,-8.2 9.0,0 Q0,-3.0 -9.0,0Z" fill="#f4eed2" stroke="#f4eed2" stroke-width="0.9" stroke-linejoin="round" filter="url(#bl05)"/>
</g>
<g transform="translate(1188.7,1079.7) rotate(60)">
<path d="M9.4,-3.0 L2.1,4.5 L-1.8,4.0 L-8.8,-0.0 L-6.3,-8.7 L2.3,-7.0Z" fill="#cdc2a4" fill-opacity="0.5" stroke="#8c8268" stroke-opacity="0.7" stroke-width="1.1" stroke-linejoin="round" filter="url(#bl05)"/>
<path d="M-7.2,-2.5 Q0,-9.3 7.2,-2.5" fill="none" stroke="#8c8268" stroke-width="2.6" opacity="0.62" filter="url(#bl1)"/>
<path d="M-9.0,0 Q0,8.2 9.0,0 Q0,3.0 -9.0,0Z" fill="#f4eed2" stroke="#f4eed2" stroke-width="0.9" stroke-linejoin="round" filter="url(#bl05)"/>
</g>
<g transform="translate(1157.0,1073.0) rotate(10)">
<path d="M9.1,-3.1 L6.3,5.2 L-7.1,2.5 L-5.9,-8.0 L2.9,-8.5Z" fill="#cdc2a4" fill-opacity="0.5" stroke="#8c8268" stroke-opacity="0.7" stroke-width="1.1" stroke-linejoin="round" filter="url(#bl05)"/>
<path d="M-8.2,-2.6 Q0,-10.0 8.2,-2.6" fill="none" stroke="#8c8268" stroke-width="2.6" opacity="0.62" filter="url(#bl1)"/>
<path d="M-10.2,0 Q0,8.8 10.2,0 Q0,3.2 -10.2,0Z" fill="#f4eed2" stroke="#f4eed2" stroke-width="0.9" stroke-linejoin="round" filter="url(#bl05)"/>
</g>
</g>
<rect x="1138.8" y="1085" width="47.5" height="5.3" fill="#000"/>
<text x="1162.5" y="1106" text-anchor="middle" textLength="43.5" lengthAdjust="spacingAndGlyphs" font-family="Liberation Sans, sans-serif" font-weight="700" font-size="13.8">50 &#181;m</text>
</g>
</svg>
</body></html>
